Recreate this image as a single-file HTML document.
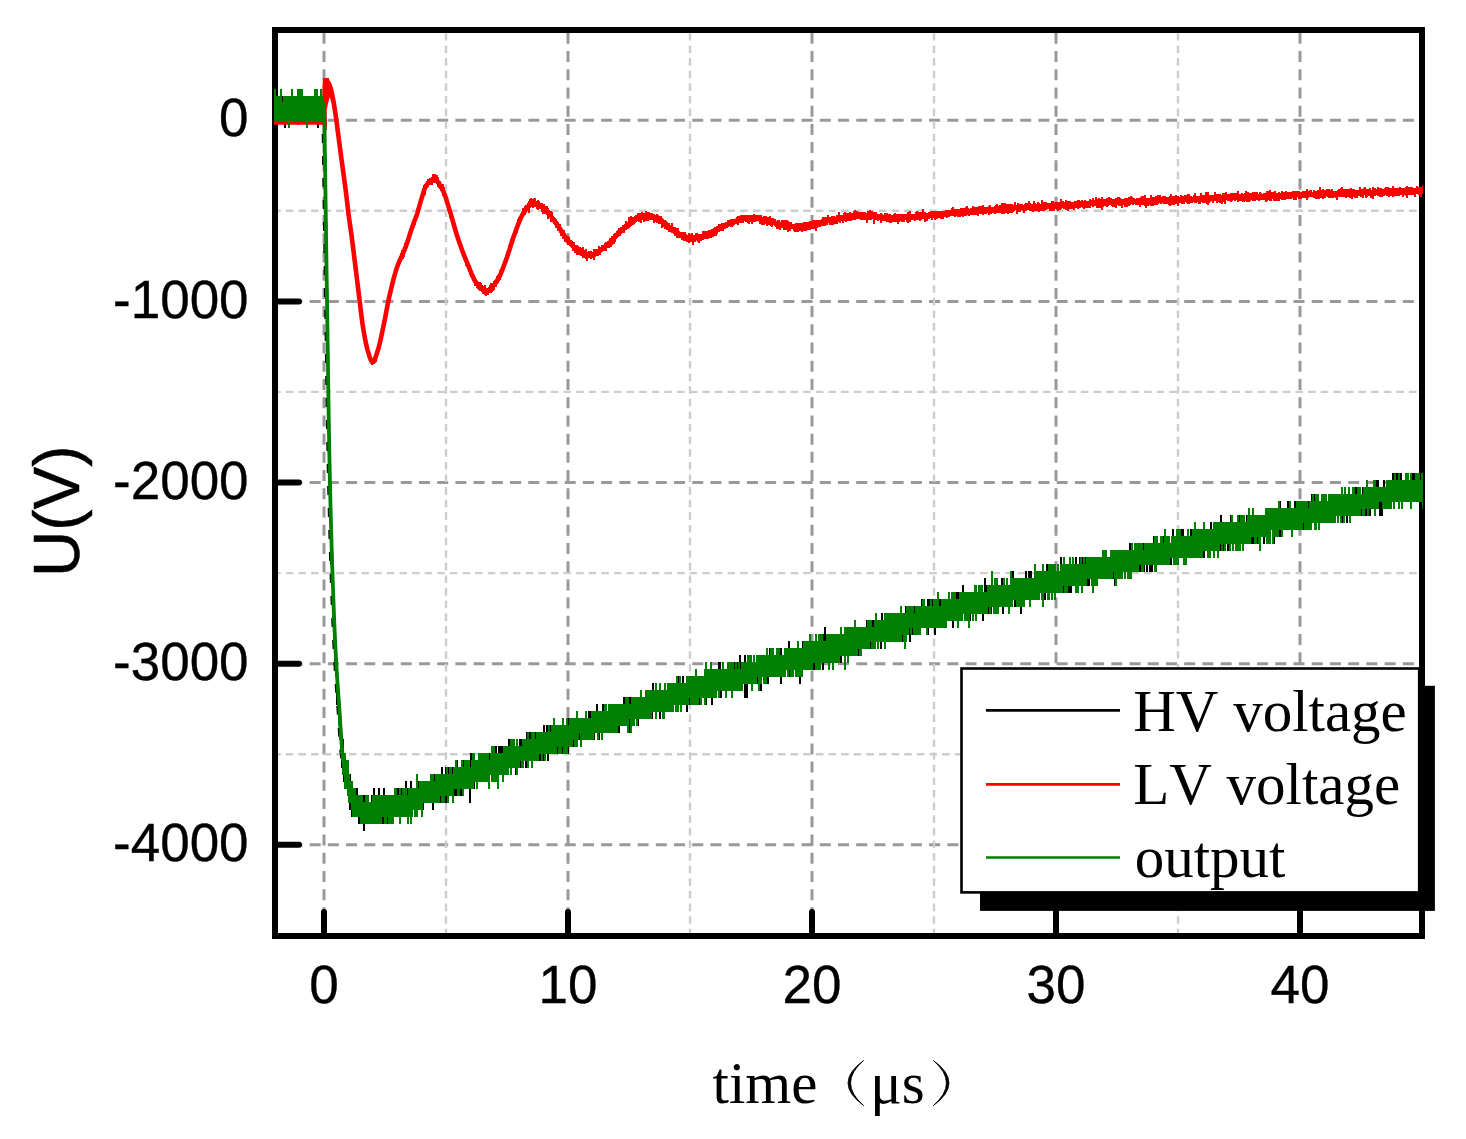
<!DOCTYPE html>
<html><head><meta charset="utf-8"><title>chart</title>
<style>html,body{margin:0;padding:0;background:#fff;width:1466px;height:1139px;overflow:hidden}</style></head>
<body>
<svg width="1466" height="1139" viewBox="0 0 1466 1139" style="position:absolute;left:0;top:0;display:block">
<g fill="none"><line x1="324.0" y1="32.8" x2="324.0" y2="936.0" stroke="#999" stroke-width="3" stroke-dasharray="11 7.22"/><line x1="568.0" y1="32.8" x2="568.0" y2="936.0" stroke="#999" stroke-width="3" stroke-dasharray="11 7.22"/><line x1="812.0" y1="32.8" x2="812.0" y2="936.0" stroke="#999" stroke-width="3" stroke-dasharray="11 7.22"/><line x1="1056.0" y1="32.8" x2="1056.0" y2="936.0" stroke="#999" stroke-width="3" stroke-dasharray="11 7.22"/><line x1="1300.0" y1="32.8" x2="1300.0" y2="936.0" stroke="#999" stroke-width="3" stroke-dasharray="11 7.22"/><line x1="273.2" y1="120.2" x2="1422.0" y2="120.2" stroke="#999" stroke-width="3" stroke-dasharray="11 7.22"/><line x1="273.2" y1="301.4" x2="1422.0" y2="301.4" stroke="#999" stroke-width="3" stroke-dasharray="11 7.22"/><line x1="273.2" y1="482.5" x2="1422.0" y2="482.5" stroke="#999" stroke-width="3" stroke-dasharray="11 7.22"/><line x1="273.2" y1="663.7" x2="1422.0" y2="663.7" stroke="#999" stroke-width="3" stroke-dasharray="11 7.22"/><line x1="273.2" y1="844.8" x2="1422.0" y2="844.8" stroke="#999" stroke-width="3" stroke-dasharray="11 7.22"/><line x1="446.0" y1="32.8" x2="446.0" y2="936.0" stroke="#cdcdcd" stroke-width="2.4" stroke-dasharray="7.6 5.02"/><line x1="690.0" y1="32.8" x2="690.0" y2="936.0" stroke="#cdcdcd" stroke-width="2.4" stroke-dasharray="7.6 5.02"/><line x1="934.0" y1="32.8" x2="934.0" y2="936.0" stroke="#cdcdcd" stroke-width="2.4" stroke-dasharray="7.6 5.02"/><line x1="1178.0" y1="32.8" x2="1178.0" y2="936.0" stroke="#cdcdcd" stroke-width="2.4" stroke-dasharray="7.6 5.02"/><line x1="273.2" y1="210.8" x2="1422.0" y2="210.8" stroke="#cdcdcd" stroke-width="2.4" stroke-dasharray="7.6 5.02"/><line x1="273.2" y1="391.9" x2="1422.0" y2="391.9" stroke="#cdcdcd" stroke-width="2.4" stroke-dasharray="7.6 5.02"/><line x1="273.2" y1="573.1" x2="1422.0" y2="573.1" stroke="#cdcdcd" stroke-width="2.4" stroke-dasharray="7.6 5.02"/><line x1="273.2" y1="754.2" x2="1422.0" y2="754.2" stroke="#cdcdcd" stroke-width="2.4" stroke-dasharray="7.6 5.02"/></g>
<rect x="275.0" y="30.0" width="1147.0" height="906.0" fill="none" stroke="#000" stroke-width="6.0"/>
<path d="M324.0 936.0 V912.0 M568.0 936.0 V912.0 M812.0 936.0 V912.0 M1056.0 936.0 V912.0 M1300.0 936.0 V912.0 M275.0 120.2 H299.0 M275.0 301.4 H299.0 M275.0 482.5 H299.0 M275.0 663.7 H299.0 M275.0 844.8 H299.0" stroke="#000" stroke-width="6" stroke-linecap="round" fill="none"/>
<clipPath id="c"><rect x="274" y="30" width="1149" height="906"/></clipPath>
<g clip-path="url(#c)" fill="none">
<path d="M323.5 112.0L324.0 147.0L324.5 182.3L325.0 217.5L325.5 252.3L326.0 286.6L326.5 320.4L327.0 355.5L327.5 390.2L328.0 423.0L328.5 452.1L329.0 476.1L329.5 497.5L330.0 517.3L330.5 535.6L331.0 552.6L331.5 568.5L332.0 583.3L332.5 597.3L333.0 610.5L333.5 622.9L334.0 634.5L334.5 645.2L335.0 655.1L335.5 664.1L336.0 672.4L336.5 680.1L337.0 687.3L337.5 694.3L338.0 701.1L338.5 708.1L339.0 715.5L339.5 723.4L340.0 731.5L340.5 739.2L341.0 746.1L341.5 751.7L342.0 755.8L342.5 759.3L343.0 762.4L343.5 765.1L344.0 767.6L344.5 769.9L345.0 772.2L345.5 774.4L346.0 776.7L346.5 779.0L347.0 781.3L347.5 783.5L348.0 785.6L348.5 787.5L349.0 789.4L349.5 791.1L350.0 792.6L350.5 794.0L351.0 795.4L351.5 796.8L352.0 798.1L352.5 799.2L353.0 800.3L353.5 801.3L354.0 802.2L354.5 803.0L355.0 803.7L355.5 804.4L356.0 805.1L356.5 805.7L357.0 806.3L357.5 806.9L358.0 807.4L358.5 807.9L359.0 808.2L359.5 808.6L360.0 808.8L360.5 809.0L361.0 809.1L361.5 809.2L362.0 809.4L362.5 809.5L363.0 809.6L363.5 809.6L364.0 809.7L364.5 809.8L365.0 809.9L365.5 809.9" stroke="#000" stroke-width="4.2" stroke-linejoin="round" stroke-dasharray="9 13"/>
<path d="M274 95.8V121.8M275 95.8V128.2M276 95.8V121.8M277 102.2V121.8M278 102.2V121.8M279 95.8V121.8M280 102.2V121.8M281 95.8V121.8M282 95.8V115.4M283 95.8V121.8M284 95.8V121.8M285 95.8V128.2M286 95.8V121.8M287 102.2V121.8M288 95.8V121.8M289 95.8V121.8M290 102.2V121.8M291 95.8V121.8M292 95.8V121.8M293 95.8V121.8M294 95.8V121.8M295 95.8V115.4M296 102.2V121.8M297 95.8V121.8M298 102.2V121.8M299 95.8V115.4M300 95.8V121.8M301 95.8V115.4M302 89.4V121.8M303 95.8V121.8M304 95.8V121.8M305 95.8V121.8M306 95.8V115.4M307 95.8V121.8M308 95.8V121.8M309 95.8V121.8M310 95.8V121.8M311 95.8V121.8M312 95.8V115.4M313 102.2V121.8M314 95.8V115.4M315 95.8V121.8M316 95.8V121.8M317 95.8V121.8M318 95.8V128.2M319 95.8V121.8M320 95.8V121.8M321 95.8V121.8M322 95.8V121.8M323 95.8V121.8M324 102.3V151.7M325 137.3V214.7M326 221.3V298.7M327 291.3V354.7M328 361.3V424.7M329 417.3V480.7M330 473.3V522.7M331 508.3V564.7M332 550.3V585.7M333 578.3V606.7M334 606.3V641.7M335 634.3V662.7M336 648.3V676.7M337 669.3V704.7M338 683.3V711.7M339 690.3V725.7M340 704.3V739.7M341 725.3V753.7M342 739.3V767.7M343 739.3V774.7M344 753.3V781.7M345 753.3V781.7M346 767.3V788.7M347 767.3V788.7M348 767.3V788.7M349 774.3V802.7M350 774.3V809.7M351 781.3V802.7M352 781.3V816.7M353 788.3V802.7M354 788.3V809.7M355 795.3V816.7M356 795.3V816.7M357 788.3V809.7M358 795.3V816.7M359 795.3V823.7M360 795.3V816.7M361 802.3V823.7M362 795.3V816.7M363 802.3V823.7M364 795.3V830.7M365 802.3V816.7M366 802.3V816.7M367 802.3V816.7M368 795.3V816.7M369 802.3V816.7M370 802.3V823.7M371 802.3V823.7M372 795.3V816.7M373 802.3V823.7M374 788.3V823.7M375 795.3V823.7M376 802.3V816.7M377 795.3V823.7M378 802.3V816.7M379 788.3V823.7M380 795.3V823.7M381 802.3V816.7M382 795.3V816.7M383 795.3V823.7M384 788.3V823.7M385 802.3V816.7M386 795.3V823.7M387 795.3V816.7M388 795.3V823.7M389 795.3V816.7M390 795.3V823.7M391 795.3V816.7M392 795.3V816.7M393 795.3V816.7M394 795.3V816.7M395 795.3V816.7M396 788.3V816.7M397 795.3V816.7M398 788.3V816.7M399 795.3V816.7M400 788.3V816.7M401 788.3V816.7M402 788.3V809.7M403 788.3V816.7M404 788.3V816.7M405 788.3V816.7M406 781.3V809.7M407 788.3V809.7M408 788.3V816.7M409 788.3V809.7M410 788.3V809.7M411 781.3V809.7M412 788.3V809.7M413 788.3V809.7M414 788.3V809.7M415 788.3V802.7M416 788.3V809.7M417 781.3V809.7M418 781.3V802.7M419 788.3V809.7M420 788.3V809.7M421 781.3V809.7M422 781.3V809.7M423 781.3V809.7M424 781.3V802.7M425 781.3V802.7M426 788.3V802.7M427 788.3V802.7M428 781.3V802.7M429 781.3V802.7M430 781.3V802.7M431 781.3V802.7M432 781.3V802.7M433 781.3V809.7M434 781.3V802.7M435 774.3V802.7M436 781.3V795.7M437 781.3V795.7M438 774.3V802.7M439 774.3V802.7M440 774.3V802.7M441 774.3V795.7M442 767.3V795.7M443 774.3V802.7M444 774.3V795.7M445 774.3V802.7M446 767.3V802.7M447 774.3V795.7M448 767.3V795.7M449 774.3V795.7M450 774.3V795.7M451 774.3V788.7M452 774.3V795.7M453 767.3V795.7M454 774.3V788.7M455 767.3V795.7M456 774.3V788.7M457 760.3V795.7M458 767.3V795.7M459 767.3V795.7M460 767.3V788.7M461 767.3V795.7M462 774.3V788.7M463 767.3V788.7M464 760.3V788.7M465 767.3V788.7M466 767.3V788.7M467 767.3V788.7M468 760.3V781.7M469 767.3V788.7M470 767.3V802.7M471 753.3V788.7M472 760.3V781.7M473 767.3V788.7M474 767.3V788.7M475 760.3V781.7M476 760.3V781.7M477 760.3V781.7M478 760.3V781.7M479 760.3V781.7M480 760.3V781.7M481 767.3V781.7M482 760.3V774.7M483 753.3V781.7M484 760.3V774.7M485 760.3V781.7M486 760.3V781.7M487 760.3V774.7M488 753.3V774.7M489 753.3V781.7M490 760.3V774.7M491 753.3V774.7M492 746.3V774.7M493 753.3V774.7M494 753.3V774.7M495 753.3V774.7M496 746.3V774.7M497 753.3V774.7M498 753.3V774.7M499 746.3V774.7M500 753.3V774.7M501 746.3V767.7M502 753.3V767.7M503 746.3V774.7M504 753.3V774.7M505 746.3V767.7M506 746.3V774.7M507 746.3V774.7M508 753.3V767.7M509 739.3V767.7M510 746.3V767.7M511 753.3V774.7M512 746.3V767.7M513 739.3V767.7M514 746.3V767.7M515 746.3V767.7M516 746.3V774.7M517 746.3V767.7M518 746.3V760.7M519 746.3V767.7M520 739.3V767.7M521 739.3V760.7M522 739.3V760.7M523 739.3V767.7M524 746.3V760.7M525 746.3V760.7M526 739.3V767.7M527 732.3V767.7M528 739.3V760.7M529 739.3V760.7M530 732.3V760.7M531 739.3V760.7M532 732.3V767.7M533 732.3V760.7M534 739.3V760.7M535 739.3V760.7M536 732.3V753.7M537 732.3V760.7M538 732.3V760.7M539 732.3V760.7M540 739.3V760.7M541 739.3V760.7M542 732.3V753.7M543 732.3V753.7M544 725.3V760.7M545 732.3V760.7M546 739.3V753.7M547 725.3V753.7M548 732.3V760.7M549 732.3V753.7M550 732.3V753.7M551 725.3V753.7M552 732.3V753.7M553 732.3V753.7M554 732.3V753.7M555 732.3V753.7M556 732.3V746.7M557 725.3V753.7M558 732.3V746.7M559 732.3V753.7M560 725.3V746.7M561 725.3V746.7M562 725.3V753.7M563 725.3V746.7M564 725.3V746.7M565 725.3V746.7M566 725.3V746.7M567 718.3V746.7M568 718.3V753.7M569 725.3V746.7M570 718.3V746.7M571 718.3V739.7M572 718.3V746.7M573 725.3V739.7M574 718.3V746.7M575 718.3V739.7M576 718.3V746.7M577 725.3V739.7M578 718.3V739.7M579 718.3V739.7M580 718.3V739.7M581 718.3V739.7M582 718.3V739.7M583 718.3V739.7M584 718.3V739.7M585 718.3V739.7M586 711.3V739.7M587 718.3V739.7M588 718.3V732.7M589 711.3V739.7M590 718.3V732.7M591 711.3V732.7M592 711.3V732.7M593 711.3V739.7M594 711.3V739.7M595 718.3V732.7M596 711.3V732.7M597 704.3V732.7M598 711.3V732.7M599 711.3V739.7M600 711.3V732.7M601 711.3V732.7M602 711.3V739.7M603 704.3V732.7M604 704.3V732.7M605 704.3V732.7M606 704.3V732.7M607 711.3V732.7M608 711.3V732.7M609 704.3V732.7M610 704.3V725.7M611 704.3V732.7M612 704.3V725.7M613 704.3V725.7M614 704.3V732.7M615 704.3V725.7M616 704.3V725.7M617 704.3V725.7M618 704.3V725.7M619 704.3V732.7M620 704.3V725.7M621 704.3V725.7M622 711.3V725.7M623 704.3V725.7M624 697.3V725.7M625 704.3V725.7M626 704.3V725.7M627 704.3V725.7M628 697.3V725.7M629 704.3V732.7M630 697.3V725.7M631 704.3V718.7M632 704.3V725.7M633 697.3V718.7M634 697.3V718.7M635 697.3V718.7M636 704.3V718.7M637 697.3V718.7M638 697.3V725.7M639 697.3V718.7M640 697.3V718.7M641 697.3V718.7M642 697.3V718.7M643 697.3V718.7M644 697.3V718.7M645 697.3V718.7M646 697.3V718.7M647 697.3V718.7M648 690.3V718.7M649 690.3V711.7M650 697.3V718.7M651 697.3V718.7M652 690.3V718.7M653 683.3V711.7M654 690.3V711.7M655 690.3V711.7M656 690.3V711.7M657 690.3V711.7M658 690.3V711.7M659 690.3V711.7M660 690.3V718.7M661 690.3V704.7M662 690.3V711.7M663 690.3V711.7M664 690.3V704.7M665 690.3V704.7M666 690.3V711.7M667 690.3V711.7M668 690.3V711.7M669 690.3V711.7M670 690.3V711.7M671 683.3V711.7M672 690.3V704.7M673 683.3V711.7M674 690.3V704.7M675 690.3V704.7M676 683.3V711.7M677 683.3V711.7M678 683.3V704.7M679 676.3V704.7M680 683.3V704.7M681 683.3V704.7M682 683.3V704.7M683 676.3V704.7M684 683.3V704.7M685 683.3V704.7M686 683.3V704.7M687 683.3V711.7M688 676.3V704.7M689 683.3V704.7M690 676.3V704.7M691 676.3V697.7M692 683.3V704.7M693 676.3V704.7M694 676.3V704.7M695 683.3V697.7M696 676.3V704.7M697 676.3V704.7M698 676.3V697.7M699 676.3V704.7M700 676.3V690.7M701 676.3V697.7M702 676.3V697.7M703 676.3V697.7M704 676.3V697.7M705 676.3V697.7M706 676.3V704.7M707 676.3V697.7M708 676.3V690.7M709 676.3V697.7M710 676.3V697.7M711 669.3V690.7M712 676.3V704.7M713 669.3V697.7M714 669.3V697.7M715 669.3V690.7M716 669.3V697.7M717 676.3V690.7M718 669.3V690.7M719 662.3V690.7M720 662.3V697.7M721 669.3V697.7M722 676.3V690.7M723 669.3V690.7M724 669.3V690.7M725 669.3V690.7M726 669.3V690.7M727 669.3V690.7M728 669.3V690.7M729 669.3V690.7M730 662.3V683.7M731 669.3V690.7M732 669.3V683.7M733 662.3V690.7M734 662.3V683.7M735 669.3V690.7M736 662.3V683.7M737 662.3V690.7M738 669.3V690.7M739 662.3V683.7M740 655.3V683.7M741 662.3V690.7M742 662.3V683.7M743 669.3V683.7M744 669.3V683.7M745 655.3V697.7M746 662.3V683.7M747 662.3V697.7M748 655.3V683.7M749 662.3V683.7M750 662.3V683.7M751 662.3V683.7M752 662.3V683.7M753 662.3V683.7M754 655.3V683.7M755 662.3V683.7M756 662.3V683.7M757 655.3V676.7M758 655.3V683.7M759 662.3V683.7M760 662.3V683.7M761 655.3V690.7M762 655.3V676.7M763 655.3V676.7M764 655.3V683.7M765 655.3V676.7M766 655.3V683.7M767 655.3V676.7M768 655.3V683.7M769 655.3V676.7M770 648.3V676.7M771 655.3V676.7M772 648.3V676.7M773 655.3V676.7M774 655.3V676.7M775 655.3V676.7M776 655.3V676.7M777 655.3V676.7M778 648.3V676.7M779 648.3V676.7M780 648.3V676.7M781 648.3V683.7M782 655.3V676.7M783 655.3V669.7M784 655.3V669.7M785 655.3V676.7M786 648.3V669.7M787 648.3V669.7M788 648.3V669.7M789 641.3V676.7M790 655.3V669.7M791 648.3V669.7M792 655.3V669.7M793 648.3V669.7M794 648.3V669.7M795 648.3V669.7M796 648.3V676.7M797 648.3V676.7M798 648.3V669.7M799 648.3V669.7M800 648.3V683.7M801 648.3V669.7M802 648.3V669.7M803 641.3V669.7M804 648.3V669.7M805 648.3V662.7M806 648.3V669.7M807 641.3V662.7M808 641.3V669.7M809 648.3V662.7M810 641.3V669.7M811 641.3V669.7M812 648.3V669.7M813 641.3V669.7M814 641.3V669.7M815 641.3V669.7M816 641.3V662.7M817 641.3V662.7M818 641.3V662.7M819 641.3V662.7M820 634.3V662.7M821 641.3V662.7M822 641.3V662.7M823 634.3V669.7M824 634.3V662.7M825 627.3V662.7M826 641.3V662.7M827 641.3V662.7M828 641.3V662.7M829 641.3V655.7M830 634.3V655.7M831 634.3V655.7M832 634.3V662.7M833 634.3V655.7M834 634.3V655.7M835 634.3V655.7M836 641.3V655.7M837 634.3V662.7M838 634.3V655.7M839 634.3V655.7M840 634.3V655.7M841 634.3V662.7M842 634.3V655.7M843 634.3V655.7M844 634.3V655.7M845 634.3V648.7M846 634.3V655.7M847 627.3V655.7M848 627.3V662.7M849 627.3V655.7M850 627.3V648.7M851 627.3V655.7M852 634.3V648.7M853 627.3V655.7M854 627.3V655.7M855 627.3V648.7M856 627.3V655.7M857 627.3V648.7M858 627.3V655.7M859 627.3V655.7M860 627.3V655.7M861 627.3V648.7M862 627.3V648.7M863 627.3V648.7M864 627.3V648.7M865 627.3V648.7M866 627.3V648.7M867 620.3V648.7M868 620.3V648.7M869 620.3V648.7M870 627.3V648.7M871 620.3V648.7M872 627.3V641.7M873 620.3V641.7M874 620.3V648.7M875 620.3V641.7M876 627.3V641.7M877 627.3V641.7M878 620.3V648.7M879 620.3V641.7M880 620.3V641.7M881 620.3V648.7M882 613.3V641.7M883 620.3V641.7M884 620.3V641.7M885 620.3V641.7M886 620.3V641.7M887 620.3V641.7M888 620.3V641.7M889 620.3V641.7M890 620.3V641.7M891 613.3V641.7M892 613.3V641.7M893 620.3V641.7M894 620.3V634.7M895 620.3V641.7M896 613.3V641.7M897 613.3V634.7M898 613.3V634.7M899 613.3V641.7M900 613.3V634.7M901 613.3V634.7M902 613.3V641.7M903 613.3V634.7M904 613.3V634.7M905 613.3V627.7M906 606.3V634.7M907 613.3V634.7M908 613.3V634.7M909 613.3V627.7M910 613.3V641.7M911 606.3V627.7M912 606.3V634.7M913 606.3V627.7M914 606.3V627.7M915 606.3V634.7M916 613.3V634.7M917 606.3V634.7M918 606.3V627.7M919 606.3V627.7M920 606.3V634.7M921 613.3V627.7M922 599.3V627.7M923 606.3V627.7M924 606.3V627.7M925 606.3V627.7M926 606.3V627.7M927 606.3V627.7M928 599.3V634.7M929 599.3V627.7M930 606.3V627.7M931 599.3V627.7M932 599.3V627.7M933 599.3V627.7M934 606.3V627.7M935 599.3V634.7M936 606.3V627.7M937 606.3V627.7M938 599.3V627.7M939 606.3V627.7M940 599.3V627.7M941 599.3V627.7M942 606.3V627.7M943 599.3V627.7M944 599.3V627.7M945 599.3V620.7M946 599.3V620.7M947 599.3V620.7M948 599.3V620.7M949 599.3V620.7M950 599.3V620.7M951 599.3V620.7M952 599.3V620.7M953 599.3V627.7M954 592.3V620.7M955 592.3V620.7M956 592.3V613.7M957 592.3V620.7M958 592.3V620.7M959 599.3V620.7M960 599.3V620.7M961 592.3V620.7M962 592.3V620.7M963 585.3V613.7M964 592.3V613.7M965 592.3V620.7M966 592.3V613.7M967 592.3V613.7M968 592.3V613.7M969 592.3V613.7M970 592.3V620.7M971 592.3V613.7M972 592.3V613.7M973 599.3V613.7M974 592.3V613.7M975 585.3V613.7M976 592.3V613.7M977 592.3V613.7M978 592.3V613.7M979 592.3V613.7M980 592.3V613.7M981 585.3V613.7M982 592.3V606.7M983 592.3V620.7M984 592.3V613.7M985 578.3V613.7M986 585.3V613.7M987 585.3V606.7M988 585.3V606.7M989 592.3V613.7M990 585.3V606.7M991 585.3V613.7M992 585.3V606.7M993 585.3V606.7M994 585.3V606.7M995 585.3V606.7M996 585.3V606.7M997 578.3V606.7M998 585.3V606.7M999 585.3V606.7M1000 585.3V606.7M1001 585.3V606.7M1002 578.3V606.7M1003 585.3V613.7M1004 578.3V606.7M1005 585.3V606.7M1006 585.3V606.7M1007 585.3V599.7M1008 585.3V599.7M1009 585.3V606.7M1010 585.3V606.7M1011 585.3V606.7M1012 585.3V599.7M1013 571.3V599.7M1014 578.3V599.7M1015 585.3V606.7M1016 578.3V599.7M1017 578.3V606.7M1018 578.3V599.7M1019 578.3V599.7M1020 578.3V599.7M1021 578.3V613.7M1022 578.3V592.7M1023 578.3V599.7M1024 578.3V599.7M1025 578.3V599.7M1026 571.3V599.7M1027 578.3V599.7M1028 578.3V599.7M1029 571.3V599.7M1030 571.3V606.7M1031 571.3V599.7M1032 578.3V599.7M1033 578.3V599.7M1034 578.3V599.7M1035 571.3V592.7M1036 571.3V592.7M1037 578.3V599.7M1038 571.3V592.7M1039 571.3V599.7M1040 571.3V592.7M1041 571.3V592.7M1042 578.3V599.7M1043 571.3V599.7M1044 571.3V599.7M1045 571.3V599.7M1046 571.3V592.7M1047 564.3V592.7M1048 571.3V592.7M1049 571.3V599.7M1050 571.3V592.7M1051 564.3V592.7M1052 571.3V592.7M1053 571.3V592.7M1054 571.3V592.7M1055 571.3V585.7M1056 571.3V592.7M1057 571.3V592.7M1058 571.3V585.7M1059 571.3V592.7M1060 571.3V585.7M1061 557.3V592.7M1062 564.3V592.7M1063 571.3V592.7M1064 564.3V592.7M1065 564.3V592.7M1066 564.3V578.7M1067 564.3V585.7M1068 564.3V592.7M1069 564.3V592.7M1070 557.3V585.7M1071 564.3V592.7M1072 564.3V585.7M1073 564.3V585.7M1074 564.3V585.7M1075 564.3V585.7M1076 557.3V585.7M1077 564.3V585.7M1078 564.3V585.7M1079 564.3V585.7M1080 557.3V585.7M1081 564.3V585.7M1082 557.3V585.7M1083 564.3V585.7M1084 564.3V578.7M1085 557.3V585.7M1086 557.3V585.7M1087 557.3V585.7M1088 557.3V578.7M1089 564.3V585.7M1090 557.3V578.7M1091 557.3V578.7M1092 564.3V585.7M1093 564.3V585.7M1094 557.3V578.7M1095 557.3V578.7M1096 557.3V578.7M1097 557.3V578.7M1098 557.3V578.7M1099 557.3V578.7M1100 557.3V578.7M1101 557.3V578.7M1102 557.3V578.7M1103 550.3V578.7M1104 557.3V578.7M1105 550.3V578.7M1106 550.3V578.7M1107 557.3V578.7M1108 557.3V571.7M1109 557.3V578.7M1110 557.3V578.7M1111 557.3V578.7M1112 550.3V578.7M1113 550.3V578.7M1114 550.3V571.7M1115 557.3V585.7M1116 550.3V578.7M1117 550.3V571.7M1118 550.3V571.7M1119 550.3V571.7M1120 557.3V571.7M1121 550.3V571.7M1122 550.3V571.7M1123 550.3V571.7M1124 550.3V571.7M1125 550.3V571.7M1126 550.3V571.7M1127 550.3V571.7M1128 550.3V578.7M1129 550.3V571.7M1130 543.3V571.7M1131 550.3V578.7M1132 550.3V571.7M1133 550.3V571.7M1134 550.3V571.7M1135 543.3V571.7M1136 550.3V571.7M1137 543.3V564.7M1138 550.3V564.7M1139 550.3V571.7M1140 543.3V571.7M1141 550.3V571.7M1142 550.3V571.7M1143 543.3V571.7M1144 550.3V571.7M1145 550.3V564.7M1146 543.3V564.7M1147 543.3V571.7M1148 550.3V564.7M1149 543.3V564.7M1150 543.3V571.7M1151 543.3V571.7M1152 543.3V571.7M1153 543.3V564.7M1154 536.3V564.7M1155 543.3V564.7M1156 536.3V571.7M1157 543.3V564.7M1158 543.3V564.7M1159 543.3V564.7M1160 543.3V564.7M1161 543.3V557.7M1162 543.3V564.7M1163 536.3V564.7M1164 536.3V564.7M1165 543.3V564.7M1166 536.3V564.7M1167 543.3V564.7M1168 536.3V557.7M1169 536.3V557.7M1170 543.3V564.7M1171 543.3V564.7M1172 536.3V557.7M1173 529.3V557.7M1174 536.3V557.7M1175 536.3V557.7M1176 536.3V564.7M1177 536.3V564.7M1178 543.3V557.7M1179 536.3V557.7M1180 543.3V557.7M1181 529.3V550.7M1182 536.3V557.7M1183 529.3V557.7M1184 536.3V557.7M1185 536.3V557.7M1186 536.3V557.7M1187 536.3V557.7M1188 536.3V557.7M1189 536.3V557.7M1190 536.3V550.7M1191 529.3V550.7M1192 529.3V550.7M1193 536.3V550.7M1194 536.3V550.7M1195 529.3V550.7M1196 536.3V557.7M1197 536.3V557.7M1198 529.3V550.7M1199 529.3V550.7M1200 529.3V557.7M1201 529.3V550.7M1202 529.3V550.7M1203 529.3V550.7M1204 529.3V557.7M1205 529.3V550.7M1206 529.3V550.7M1207 536.3V550.7M1208 529.3V550.7M1209 529.3V550.7M1210 529.3V550.7M1211 522.3V550.7M1212 529.3V550.7M1213 529.3V550.7M1214 529.3V550.7M1215 529.3V550.7M1216 522.3V543.7M1217 529.3V543.7M1218 529.3V550.7M1219 522.3V550.7M1220 522.3V550.7M1221 515.3V550.7M1222 522.3V550.7M1223 522.3V550.7M1224 522.3V543.7M1225 522.3V550.7M1226 522.3V543.7M1227 522.3V543.7M1228 522.3V550.7M1229 522.3V543.7M1230 522.3V543.7M1231 515.3V543.7M1232 522.3V543.7M1233 522.3V536.7M1234 522.3V543.7M1235 522.3V543.7M1236 522.3V543.7M1237 522.3V543.7M1238 522.3V543.7M1239 515.3V543.7M1240 515.3V543.7M1241 522.3V543.7M1242 515.3V543.7M1243 522.3V543.7M1244 522.3V543.7M1245 522.3V536.7M1246 522.3V543.7M1247 515.3V543.7M1248 522.3V536.7M1249 515.3V543.7M1250 515.3V536.7M1251 515.3V536.7M1252 515.3V543.7M1253 515.3V543.7M1254 515.3V543.7M1255 515.3V536.7M1256 515.3V536.7M1257 515.3V543.7M1258 522.3V536.7M1259 515.3V536.7M1260 515.3V536.7M1261 515.3V536.7M1262 515.3V536.7M1263 515.3V536.7M1264 515.3V543.7M1265 515.3V536.7M1266 508.3V536.7M1267 508.3V543.7M1268 515.3V536.7M1269 515.3V543.7M1270 515.3V536.7M1271 515.3V529.7M1272 508.3V529.7M1273 508.3V536.7M1274 508.3V543.7M1275 508.3V529.7M1276 508.3V529.7M1277 515.3V529.7M1278 515.3V529.7M1279 515.3V529.7M1280 501.3V536.7M1281 508.3V529.7M1282 508.3V529.7M1283 508.3V529.7M1284 508.3V529.7M1285 515.3V529.7M1286 508.3V529.7M1287 508.3V529.7M1288 501.3V529.7M1289 508.3V529.7M1290 508.3V529.7M1291 508.3V529.7M1292 508.3V529.7M1293 508.3V529.7M1294 508.3V529.7M1295 501.3V529.7M1296 501.3V529.7M1297 501.3V529.7M1298 501.3V529.7M1299 501.3V529.7M1300 508.3V529.7M1301 501.3V529.7M1302 501.3V522.7M1303 501.3V529.7M1304 501.3V529.7M1305 501.3V522.7M1306 508.3V529.7M1307 501.3V522.7M1308 501.3V522.7M1309 501.3V522.7M1310 501.3V522.7M1311 501.3V522.7M1312 494.3V522.7M1313 501.3V522.7M1314 494.3V522.7M1315 501.3V522.7M1316 501.3V522.7M1317 494.3V522.7M1318 501.3V522.7M1319 501.3V522.7M1320 501.3V522.7M1321 501.3V515.7M1322 501.3V522.7M1323 501.3V522.7M1324 501.3V515.7M1325 501.3V522.7M1326 494.3V522.7M1327 501.3V515.7M1328 501.3V522.7M1329 501.3V522.7M1330 501.3V515.7M1331 494.3V522.7M1332 494.3V522.7M1333 494.3V522.7M1334 494.3V522.7M1335 494.3V522.7M1336 494.3V515.7M1337 494.3V515.7M1338 494.3V522.7M1339 494.3V515.7M1340 501.3V515.7M1341 494.3V515.7M1342 501.3V515.7M1343 494.3V522.7M1344 494.3V515.7M1345 494.3V515.7M1346 494.3V515.7M1347 494.3V522.7M1348 494.3V515.7M1349 494.3V515.7M1350 494.3V522.7M1351 494.3V515.7M1352 494.3V515.7M1353 487.3V515.7M1354 487.3V515.7M1355 487.3V515.7M1356 487.3V515.7M1357 487.3V515.7M1358 487.3V515.7M1359 494.3V508.7M1360 487.3V508.7M1361 494.3V515.7M1362 494.3V515.7M1363 487.3V508.7M1364 487.3V508.7M1365 487.3V515.7M1366 487.3V515.7M1367 487.3V515.7M1368 487.3V508.7M1369 487.3V515.7M1370 487.3V515.7M1371 487.3V508.7M1372 487.3V508.7M1373 487.3V508.7M1374 487.3V508.7M1375 487.3V508.7M1376 487.3V508.7M1377 480.3V508.7M1378 480.3V508.7M1379 487.3V508.7M1380 487.3V515.7M1381 487.3V508.7M1382 487.3V515.7M1383 487.3V508.7M1384 480.3V508.7M1385 487.3V501.7M1386 487.3V508.7M1387 480.3V508.7M1388 480.3V508.7M1389 480.3V508.7M1390 480.3V508.7M1391 480.3V501.7M1392 480.3V501.7M1393 473.3V501.7M1394 487.3V501.7M1395 480.3V501.7M1396 480.3V501.7M1397 473.3V501.7M1398 480.3V501.7M1399 480.3V508.7M1400 480.3V501.7M1401 473.3V501.7M1402 480.3V494.7M1403 480.3V501.7M1404 480.3V501.7M1405 480.3V501.7M1406 480.3V501.7M1407 473.3V501.7M1408 480.3V501.7M1409 480.3V501.7M1410 480.3V501.7M1411 480.3V494.7M1412 473.3V501.7M1413 480.3V501.7M1414 473.3V501.7M1415 480.3V494.7M1416 473.3V501.7M1417 473.3V501.7M1418 480.3V501.7M1419 473.3V501.7M1420 473.3V494.7M1421 473.3V494.7M1422 473.3V501.7M1423 473.3V494.7" stroke="#000" stroke-width="2" shape-rendering="crispEdges"/>
<path d="M274 123H323.5" stroke="#f00" stroke-width="3.6"/><path d="M326.5 100L326.5 80.0L327.5 81.5L328.5 83.0L329.5 85.0L330.5 87.9L331.5 91.8L332.5 96.3L333.5 101.5L334.5 107.5L335.5 114.1L336.5 121.1L337.5 128.9L338.5 136.7L339.5 144.3L340.5 151.9L341.5 159.3L342.5 166.6L343.5 173.9L344.5 181.3L345.5 188.8L346.5 196.7L347.5 205.6L348.5 214.1L349.5 221.3L350.5 228.1L351.5 235.3L352.5 243.1L353.5 251.1L354.5 259.2L355.5 267.2L356.5 275.3L357.5 283.5L358.5 291.6L359.5 299.7L360.5 308.2L361.5 316.4L362.5 323.8L363.5 330.1L364.5 335.9L365.5 341.3L366.5 345.9L367.5 349.8L368.5 353.1L369.5 356.4L370.5 359.2L371.5 361.3L372.5 362.3L373.5 361.8L374.5 360.2L375.5 357.6L376.5 354.5L377.5 351.3L378.5 348.1L379.5 344.3L380.5 340.0L381.5 335.4L382.5 330.6L383.5 325.9L384.5 321.1L385.5 315.9L386.5 310.6L387.5 305.4L388.5 300.3L389.5 295.7L390.5 291.4L391.5 287.2L392.5 283.1L393.5 279.2L394.5 275.5L395.5 272.1L396.5 268.9L397.5 266.0L398.5 263.4L399.5 261.0L400.5 258.8L401.5 256.6L402.5 254.5L403.5 252.3L404.5 249.9L405.5 247.4L406.5 244.6L407.5 241.7L408.5 238.6L409.5 235.5L410.5 232.3L411.5 229.2L412.5 226.3L413.5 223.4L414.5 220.9L415.5 218.4L416.5 215.8L417.5 212.7L418.5 209.2L419.5 205.6L420.5 202.0L421.5 198.7L422.5 195.4L423.5 192.1L424.5 189.1L425.5 186.7L426.5 185.2L427.5 183.9L428.5 182.7L429.5 181.6L430.5 180.6L431.5 179.9L432.5 179.3L433.5 179.0L434.5 179.1L435.5 179.5L436.5 180.3L437.5 181.4L438.5 182.7L439.5 184.3L440.5 186.0L441.5 187.9L442.5 189.8L443.5 191.7L444.5 194.0L445.5 196.8L446.5 200.0L447.5 203.3L448.5 206.7L449.5 209.9L450.5 213.2L451.5 216.6L452.5 220.0L453.5 223.5L454.5 227.0L455.5 230.5L456.5 233.8L457.5 237.0L458.5 240.0L459.5 242.9L460.5 245.7L461.5 248.5L462.5 251.2L463.5 253.8L464.5 256.4L465.5 258.9L466.5 261.3L467.5 263.7L468.5 266.2L469.5 268.7L470.5 271.2L471.5 273.7L472.5 276.0L473.5 278.1L474.5 280.0L475.5 281.6L476.5 282.9L477.5 284.1L478.5 285.2L479.5 286.3L480.5 287.3L481.5 288.3L482.5 289.1L483.5 289.8L484.5 290.3L485.5 290.7L486.5 290.8L487.5 290.7L488.5 290.3L489.5 289.7L490.5 288.9L491.5 287.9L492.5 286.8L493.5 285.6L494.5 284.3L495.5 283.0L496.5 281.6L497.5 280.2L498.5 278.5L499.5 276.5L500.5 274.3L501.5 271.9L502.5 269.3L503.5 266.7L504.5 264.0L505.5 261.3L506.5 258.7L507.5 255.8L508.5 252.8L509.5 249.6L510.5 246.4L511.5 243.2L512.5 240.0L513.5 237.0L514.5 234.2L515.5 231.5L516.5 228.8L517.5 226.2L518.5 223.6L519.5 221.1L520.5 218.7L521.5 216.5L522.5 214.5L523.5 212.8L524.5 211.3L525.5 209.9L526.5 208.4L527.5 207.1L528.5 205.8L529.5 204.8L530.5 203.9L531.5 203.3L532.5 203.0L533.5 203.0L534.5 203.2L535.5 203.5L536.5 203.8L537.5 204.3L538.5 204.9L539.5 205.5L540.5 206.1L541.5 206.8L542.5 207.6L543.5 208.3L544.5 209.1L545.5 209.9L546.5 210.8L547.5 211.8L548.5 213.0L549.5 214.2L550.5 215.5L551.5 216.9L552.5 218.3L553.5 219.8L554.5 221.2L555.5 222.6L556.5 223.9L557.5 225.3L558.5 226.7L559.5 228.1L560.5 229.6L561.5 231.1L562.5 232.6L563.5 234.1L564.5 235.6L565.5 237.0L566.5 238.3L567.5 239.6L568.5 240.8L569.5 241.9L570.5 243.0L571.5 244.1L572.5 245.2L573.5 246.3L574.5 247.3L575.5 248.3L576.5 249.2L577.5 250.0L578.5 250.8L579.5 251.4L580.5 252.0L581.5 252.4L582.5 252.9L583.5 253.3L584.5 253.8L585.5 254.2L586.5 254.5L587.5 254.8L588.5 255.0L589.5 255.2L590.5 255.2L591.5 255.1L592.5 254.9L593.5 254.6L594.5 254.2L595.5 253.7L596.5 253.2L597.5 252.5L598.5 251.8L599.5 251.1L600.5 250.3L601.5 249.5L602.5 248.6L603.5 247.8L604.5 247.0L605.5 246.2L606.5 245.4L607.5 244.6L608.5 243.8L609.5 242.8L610.5 241.9L611.5 240.8L612.5 239.8L613.5 238.7L614.5 237.6L615.5 236.5L616.5 235.4L617.5 234.3L618.5 233.3L619.5 232.2L620.5 231.2L621.5 230.3L622.5 229.4L623.5 228.5L624.5 227.6L625.5 226.7L626.5 225.8L627.5 224.9L628.5 224.1L629.5 223.2L630.5 222.4L631.5 221.6L632.5 220.9L633.5 220.3L634.5 219.7L635.5 219.2L636.5 218.8L637.5 218.4L638.5 218.0L639.5 217.7L640.5 217.3L641.5 217.0L642.5 216.7L643.5 216.5L644.5 216.3L645.5 216.1L646.5 216.0L647.5 216.0L648.5 216.1L649.5 216.2L650.5 216.4L651.5 216.7L652.5 217.0L653.5 217.4L654.5 217.8L655.5 218.3L656.5 218.7L657.5 219.2L658.5 219.7L659.5 220.2L660.5 220.8L661.5 221.3L662.5 221.9L663.5 222.6L664.5 223.3L665.5 224.1L666.5 225.0L667.5 225.9L668.5 226.8L669.5 227.7L670.5 228.6L671.5 229.4L672.5 230.2L673.5 230.8L674.5 231.4L675.5 232.0L676.5 232.5L677.5 233.1L678.5 233.7L679.5 234.2L680.5 234.8L681.5 235.3L682.5 235.8L683.5 236.3L684.5 236.8L685.5 237.2L686.5 237.6L687.5 237.9L688.5 238.2L689.5 238.4L690.5 238.6L691.5 238.7L692.5 238.7L693.5 238.7L694.5 238.6L695.5 238.4L696.5 238.2L697.5 238.0L698.5 237.7L699.5 237.4L700.5 237.1L701.5 236.7L702.5 236.4L703.5 236.0L704.5 235.6L705.5 235.3L706.5 234.9L707.5 234.5L708.5 234.1L709.5 233.7L710.5 233.3L711.5 232.8L712.5 232.3L713.5 231.8L714.5 231.3L715.5 230.7L716.5 230.2L717.5 229.6L718.5 229.1L719.5 228.5L720.5 228.0L721.5 227.5L722.5 227.0L723.5 226.5L724.5 226.0L725.5 225.5L726.5 225.0L727.5 224.5L728.5 224.0L729.5 223.5L730.5 223.0L731.5 222.6L732.5 222.1L733.5 221.7L734.5 221.3L735.5 220.9L736.5 220.6L737.5 220.4L738.5 220.1L739.5 219.9L740.5 219.7L741.5 219.4L742.5 219.2L743.5 219.0L744.5 218.8L745.5 218.7L746.5 218.5L747.5 218.4L748.5 218.3L749.5 218.2L750.5 218.2L751.5 218.2L752.5 218.2L753.5 218.3L754.5 218.4L755.5 218.5L756.5 218.7L757.5 218.9L758.5 219.0L759.5 219.2L760.5 219.5L761.5 219.7L762.5 219.9L763.5 220.1L764.5 220.4L765.5 220.6L766.5 220.8L767.5 221.0L768.5 221.2L769.5 221.5L770.5 221.7L771.5 222.0L772.5 222.2L773.5 222.5L774.5 222.8L775.5 223.0L776.5 223.3L777.5 223.6L778.5 223.8L779.5 224.1L780.5 224.3L781.5 224.6L782.5 224.8L783.5 225.0L784.5 225.1L785.5 225.3L786.5 225.5L787.5 225.7L788.5 225.9L789.5 226.1L790.5 226.3L791.5 226.5L792.5 226.6L793.5 226.8L794.5 226.9L795.5 226.9L796.5 227.0L797.5 227.0L798.5 227.0L799.5 226.9L800.5 226.9L801.5 226.8L802.5 226.7L803.5 226.6L804.5 226.5L805.5 226.4L806.5 226.2L807.5 226.1L808.5 225.9L809.5 225.7L810.5 225.6L811.5 225.4L812.5 225.2L813.5 225.1L814.5 224.9L815.5 224.7L816.5 224.4L817.5 224.2L818.5 223.9L819.5 223.6L820.5 223.3L821.5 223.0L822.5 222.7L823.5 222.3L824.5 222.0L825.5 221.7L826.5 221.4L827.5 221.1L828.5 220.8L829.5 220.5L830.5 220.3L831.5 220.1L832.5 219.8L833.5 219.6L834.5 219.3L835.5 219.1L836.5 218.8L837.5 218.6L838.5 218.4L839.5 218.2L840.5 218.0L841.5 217.8L842.5 217.6L843.5 217.4L844.5 217.2L845.5 217.0L846.5 216.9L847.5 216.8L848.5 216.6L849.5 216.5L850.5 216.3L851.5 216.2L852.5 216.1L853.5 215.9L854.5 215.8L855.5 215.7L856.5 215.6L857.5 215.6L858.5 215.5L859.5 215.5L860.5 215.5L861.5 215.5L862.5 215.6L863.5 215.6L864.5 215.7L865.5 215.7L866.5 215.8L867.5 215.9L868.5 216.0L869.5 216.1L870.5 216.2L871.5 216.3L872.5 216.5L873.5 216.6L874.5 216.7L875.5 216.8L876.5 216.9L877.5 217.0L878.5 217.0L879.5 217.1L880.5 217.2L881.5 217.3L882.5 217.3L883.5 217.4L884.5 217.5L885.5 217.6L886.5 217.7L887.5 217.7L888.5 217.8L889.5 217.9L890.5 217.9L891.5 218.0L892.5 218.1L893.5 218.1L894.5 218.1L895.5 218.2L896.5 218.2L897.5 218.2L898.5 218.2L899.5 218.2L900.5 218.1L901.5 218.1L902.5 218.0L903.5 218.0L904.5 217.9L905.5 217.8L906.5 217.7L907.5 217.6L908.5 217.5L909.5 217.4L910.5 217.3L911.5 217.2L912.5 217.1L913.5 217.0L914.5 216.9L915.5 216.8L916.5 216.7L917.5 216.6L918.5 216.6L919.5 216.5L920.5 216.4L921.5 216.3L922.5 216.2L923.5 216.1L924.5 216.0L925.5 215.9L926.5 215.8L927.5 215.6L928.5 215.5L929.5 215.4L930.5 215.3L931.5 215.2L932.5 215.1L933.5 215.0L934.5 214.9L935.5 214.8L936.5 214.7L937.5 214.6L938.5 214.5L939.5 214.4L940.5 214.3L941.5 214.2L942.5 214.0L943.5 213.9L944.5 213.8L945.5 213.7L946.5 213.6L947.5 213.5L948.5 213.4L949.5 213.3L950.5 213.2L951.5 213.1L952.5 213.0L953.5 212.8L954.5 212.7L955.5 212.6L956.5 212.5L957.5 212.4L958.5 212.3L959.5 212.2L960.5 212.2L961.5 212.1L962.5 212.0L963.5 211.9L964.5 211.8L965.5 211.7L966.5 211.6L967.5 211.5L968.5 211.5L969.5 211.4L970.5 211.3L971.5 211.2L972.5 211.1L973.5 211.0L974.5 211.0L975.5 210.9L976.5 210.8L977.5 210.7L978.5 210.6L979.5 210.6L980.5 210.5L981.5 210.4L982.5 210.3L983.5 210.2L984.5 210.2L985.5 210.1L986.5 210.0L987.5 209.9L988.5 209.8L989.5 209.8L990.5 209.7L991.5 209.6L992.5 209.5L993.5 209.5L994.5 209.4L995.5 209.3L996.5 209.2L997.5 209.2L998.5 209.1L999.5 209.0L1000.5 209.0L1001.5 208.9L1002.5 208.8L1003.5 208.7L1004.5 208.7L1005.5 208.6L1006.5 208.5L1007.5 208.5L1008.5 208.4L1009.5 208.3L1010.5 208.2L1011.5 208.2L1012.5 208.1L1013.5 208.0L1014.5 208.0L1015.5 207.9L1016.5 207.8L1017.5 207.8L1018.5 207.7L1019.5 207.6L1020.5 207.6L1021.5 207.5L1022.5 207.4L1023.5 207.4L1024.5 207.3L1025.5 207.3L1026.5 207.2L1027.5 207.1L1028.5 207.1L1029.5 207.0L1030.5 206.9L1031.5 206.9L1032.5 206.8L1033.5 206.7L1034.5 206.7L1035.5 206.6L1036.5 206.6L1037.5 206.5L1038.5 206.4L1039.5 206.4L1040.5 206.3L1041.5 206.3L1042.5 206.2L1043.5 206.1L1044.5 206.1L1045.5 206.0L1046.5 206.0L1047.5 205.9L1048.5 205.8L1049.5 205.8L1050.5 205.7L1051.5 205.7L1052.5 205.6L1053.5 205.5L1054.5 205.5L1055.5 205.4L1056.5 205.4L1057.5 205.3L1058.5 205.3L1059.5 205.2L1060.5 205.1L1061.5 205.1L1062.5 205.0L1063.5 205.0L1064.5 204.9L1065.5 204.9L1066.5 204.8L1067.5 204.8L1068.5 204.7L1069.5 204.6L1070.5 204.6L1071.5 204.5L1072.5 204.5L1073.5 204.4L1074.5 204.4L1075.5 204.3L1076.5 204.3L1077.5 204.2L1078.5 204.2L1079.5 204.1L1080.5 204.1L1081.5 204.0L1082.5 204.0L1083.5 203.9L1084.5 203.9L1085.5 203.8L1086.5 203.8L1087.5 203.7L1088.5 203.7L1089.5 203.6L1090.5 203.6L1091.5 203.5L1092.5 203.5L1093.5 203.4L1094.5 203.4L1095.5 203.3L1096.5 203.3L1097.5 203.2L1098.5 203.2L1099.5 203.1L1100.5 203.1L1101.5 203.0L1102.5 203.0L1103.5 202.9L1104.5 202.9L1105.5 202.8L1106.5 202.8L1107.5 202.7L1108.5 202.7L1109.5 202.6L1110.5 202.6L1111.5 202.5L1112.5 202.5L1113.5 202.4L1114.5 202.4L1115.5 202.3L1116.5 202.3L1117.5 202.3L1118.5 202.2L1119.5 202.2L1120.5 202.1L1121.5 202.1L1122.5 202.0L1123.5 202.0L1124.5 201.9L1125.5 201.9L1126.5 201.8L1127.5 201.8L1128.5 201.7L1129.5 201.7L1130.5 201.7L1131.5 201.6L1132.5 201.6L1133.5 201.5L1134.5 201.5L1135.5 201.4L1136.5 201.4L1137.5 201.3L1138.5 201.3L1139.5 201.3L1140.5 201.2L1141.5 201.2L1142.5 201.1L1143.5 201.1L1144.5 201.0L1145.5 201.0L1146.5 201.0L1147.5 200.9L1148.5 200.9L1149.5 200.8L1150.5 200.8L1151.5 200.7L1152.5 200.7L1153.5 200.6L1154.5 200.6L1155.5 200.6L1156.5 200.5L1157.5 200.5L1158.5 200.4L1159.5 200.4L1160.5 200.3L1161.5 200.3L1162.5 200.3L1163.5 200.2L1164.5 200.2L1165.5 200.1L1166.5 200.1L1167.5 200.0L1168.5 200.0L1169.5 200.0L1170.5 199.9L1171.5 199.9L1172.5 199.8L1173.5 199.8L1174.5 199.7L1175.5 199.7L1176.5 199.7L1177.5 199.6L1178.5 199.6L1179.5 199.5L1180.5 199.5L1181.5 199.5L1182.5 199.4L1183.5 199.4L1184.5 199.3L1185.5 199.3L1186.5 199.2L1187.5 199.2L1188.5 199.2L1189.5 199.1L1190.5 199.1L1191.5 199.0L1192.5 199.0L1193.5 199.0L1194.5 198.9L1195.5 198.9L1196.5 198.8L1197.5 198.8L1198.5 198.7L1199.5 198.7L1200.5 198.7L1201.5 198.6L1202.5 198.6L1203.5 198.5L1204.5 198.5L1205.5 198.5L1206.5 198.4L1207.5 198.4L1208.5 198.3L1209.5 198.3L1210.5 198.3L1211.5 198.2L1212.5 198.2L1213.5 198.1L1214.5 198.1L1215.5 198.1L1216.5 198.0L1217.5 198.0L1218.5 197.9L1219.5 197.9L1220.5 197.9L1221.5 197.8L1222.5 197.8L1223.5 197.7L1224.5 197.7L1225.5 197.7L1226.5 197.6L1227.5 197.6L1228.5 197.6L1229.5 197.5L1230.5 197.5L1231.5 197.4L1232.5 197.4L1233.5 197.4L1234.5 197.3L1235.5 197.3L1236.5 197.2L1237.5 197.2L1238.5 197.2L1239.5 197.1L1240.5 197.1L1241.5 197.1L1242.5 197.0L1243.5 197.0L1244.5 196.9L1245.5 196.9L1246.5 196.9L1247.5 196.8L1248.5 196.8L1249.5 196.8L1250.5 196.7L1251.5 196.7L1252.5 196.6L1253.5 196.6L1254.5 196.6L1255.5 196.5L1256.5 196.5L1257.5 196.5L1258.5 196.4L1259.5 196.4L1260.5 196.3L1261.5 196.3L1262.5 196.3L1263.5 196.2L1264.5 196.2L1265.5 196.2L1266.5 196.1L1267.5 196.1L1268.5 196.0L1269.5 196.0L1270.5 196.0L1271.5 195.9L1272.5 195.9L1273.5 195.9L1274.5 195.8L1275.5 195.8L1276.5 195.8L1277.5 195.7L1278.5 195.7L1279.5 195.6L1280.5 195.6L1281.5 195.6L1282.5 195.5L1283.5 195.5L1284.5 195.5L1285.5 195.4L1286.5 195.4L1287.5 195.4L1288.5 195.3L1289.5 195.3L1290.5 195.2L1291.5 195.2L1292.5 195.2L1293.5 195.1L1294.5 195.1L1295.5 195.1L1296.5 195.0L1297.5 195.0L1298.5 195.0L1299.5 194.9L1300.5 194.9L1301.5 194.8L1302.5 194.8L1303.5 194.8L1304.5 194.7L1305.5 194.7L1306.5 194.7L1307.5 194.6L1308.5 194.6L1309.5 194.6L1310.5 194.5L1311.5 194.5L1312.5 194.5L1313.5 194.4L1314.5 194.4L1315.5 194.3L1316.5 194.3L1317.5 194.3L1318.5 194.2L1319.5 194.2L1320.5 194.2L1321.5 194.1L1322.5 194.1L1323.5 194.1L1324.5 194.0L1325.5 194.0L1326.5 194.0L1327.5 193.9L1328.5 193.9L1329.5 193.9L1330.5 193.8L1331.5 193.8L1332.5 193.8L1333.5 193.7L1334.5 193.7L1335.5 193.7L1336.5 193.6L1337.5 193.6L1338.5 193.6L1339.5 193.5L1340.5 193.5L1341.5 193.5L1342.5 193.4L1343.5 193.4L1344.5 193.4L1345.5 193.3L1346.5 193.3L1347.5 193.3L1348.5 193.2L1349.5 193.2L1350.5 193.2L1351.5 193.1L1352.5 193.1L1353.5 193.1L1354.5 193.0L1355.5 193.0L1356.5 192.9L1357.5 192.9L1358.5 192.9L1359.5 192.8L1360.5 192.8L1361.5 192.8L1362.5 192.7L1363.5 192.7L1364.5 192.7L1365.5 192.6L1366.5 192.6L1367.5 192.6L1368.5 192.5L1369.5 192.5L1370.5 192.5L1371.5 192.5L1372.5 192.4L1373.5 192.4L1374.5 192.4L1375.5 192.3L1376.5 192.3L1377.5 192.3L1378.5 192.2L1379.5 192.2L1380.5 192.2L1381.5 192.1L1382.5 192.1L1383.5 192.1L1384.5 192.0L1385.5 192.0L1386.5 192.0L1387.5 191.9L1388.5 191.9L1389.5 191.9L1390.5 191.8L1391.5 191.8L1392.5 191.8L1393.5 191.7L1394.5 191.7L1395.5 191.7L1396.5 191.6L1397.5 191.6L1398.5 191.6L1399.5 191.5L1400.5 191.5L1401.5 191.5L1402.5 191.4L1403.5 191.4L1404.5 191.4L1405.5 191.3L1406.5 191.3L1407.5 191.3L1408.5 191.2L1409.5 191.2L1410.5 191.2L1411.5 191.1L1412.5 191.1L1413.5 191.1L1414.5 191.0L1415.5 191.0L1416.5 191.0L1417.5 190.9L1418.5 190.9L1419.5 190.9L1420.5 190.8L1421.5 190.8L1422.5 190.8L1423.5 190.7" stroke="#f00" stroke-width="4.6" stroke-linejoin="round"/>
<path d="M274 121.7V124.0M275 122.0V124.3M276 121.7V124.3M277 122.1V124.1M278 121.8V124.3M279 121.8V124.3M280 121.5V124.2M281 121.9V124.2M282 121.7V124.2M283 121.8V124.2M284 121.8V124.0M285 121.9V124.3M286 121.8V124.3M287 122.0V123.9M288 122.0V124.0M289 122.1V124.2M290 121.7V123.8M291 121.9V124.4M292 122.2V124.2M293 121.8V124.3M294 122.1V123.8M295 121.8V124.0M296 121.7V124.1M297 122.0V124.1M298 122.0V124.7M299 121.8V124.2M300 122.0V124.0M301 121.7V124.1M302 122.0V124.1M303 122.2V124.1M304 122.0V123.9M305 121.8V123.9M306 122.2V123.9M307 121.7V124.3M308 121.7V124.1M309 121.5V124.1M310 122.2V123.9M311 122.1V124.4M312 121.7V124.0M313 122.0V124.0M314 121.9V123.9M315 121.8V124.1M316 121.8V124.1M317 121.9V124.1M318 121.6V124.4M319 121.8V124.2M320 122.1V124.0M321 121.9V123.9M322 121.7V124.1M323 119.7V124.9M324 119.2V127.3M325 119.2V125.7M326 119.2V125.8M327 77.5V83.6M328 77.8V86.3M329 80.7V87.2M330 81.5V89.7M331 84.4V93.1M332 88.3V97.7M333 96.3V103.8M334 100.6V111.8M335 107.5V115.1M336 111.5V123.7M337 120.6V131.6M338 126.2V140.0M339 134.2V145.0M340 144.1V152.6M341 152.8V160.2M342 157.8V166.7M343 165.0V177.4M344 172.7V182.1M345 179.2V188.3M346 188.8V197.6M347 195.7V208.9M348 204.3V215.6M349 211.6V222.4M350 219.2V231.5M351 226.8V238.1M352 234.3V245.7M353 242.5V251.0M354 248.9V259.7M355 258.2V270.8M356 265.5V277.8M357 273.8V284.1M358 281.2V291.2M359 289.4V300.8M360 299.4V307.8M361 306.4V316.8M362 315.3V322.5M363 321.9V331.9M364 328.8V337.2M365 332.6V342.7M366 339.1V346.8M367 342.4V352.3M368 347.5V356.8M369 352.4V359.1M370 353.4V362.0M371 358.8V362.6M372 357.7V364.9M373 358.1V364.2M374 359.5V364.4M375 355.9V362.1M376 352.1V361.7M377 348.7V356.8M378 346.8V353.9M379 343.8V351.8M380 336.7V347.8M381 335.3V341.8M382 328.9V337.8M383 325.5V331.9M384 319.8V325.6M385 313.7V322.6M386 308.9V316.7M387 303.1V311.4M388 298.6V306.4M389 291.4V302.2M390 288.1V297.1M391 284.4V294.3M392 280.9V289.6M393 277.2V285.9M394 273.4V280.7M395 271.4V277.5M396 266.6V273.6M397 263.1V271.2M398 261.9V266.7M399 259.8V266.2M400 255.6V263.3M401 252.9V261.4M402 249.8V258.1M403 250.0V258.6M404 247.4V257.0M405 243.3V252.2M406 243.1V249.1M407 239.7V246.9M408 237.0V244.4M409 232.6V241.4M410 229.6V236.6M411 226.8V234.9M412 224.1V231.3M413 221.6V228.3M414 218.8V224.4M415 214.9V224.6M416 214.8V221.3M417 210.4V218.0M418 205.9V215.4M419 202.7V213.1M420 199.7V208.2M421 196.7V204.8M422 192.5V200.0M423 190.2V197.4M424 184.6V195.6M425 183.7V194.8M426 182.8V189.2M427 181.2V188.0M428 179.3V186.5M429 179.1V184.7M430 178.2V185.4M431 177.7V184.9M432 177.4V184.7M433 174.4V183.2M434 175.3V180.3M435 173.9V183.0M436 175.0V183.4M437 175.4V184.1M438 177.3V186.8M439 180.9V188.2M440 181.3V189.4M441 183.8V191.1M442 185.0V192.1M443 184.2V195.9M444 186.9V194.8M445 192.0V198.4M446 194.2V201.1M447 198.6V205.7M448 201.3V210.9M449 205.1V213.0M450 207.9V217.8M451 211.3V218.3M452 213.7V223.0M453 216.3V227.0M454 220.4V227.7M455 223.9V232.9M456 228.6V235.6M457 231.5V239.5M458 234.6V241.5M459 237.6V245.3M460 241.0V247.1M461 243.1V250.4M462 245.9V253.3M463 248.5V257.1M464 251.2V258.9M465 254.1V261.5M466 258.2V265.7M467 258.6V266.5M468 262.4V268.6M469 264.4V271.9M470 265.2V274.5M471 268.3V277.2M472 271.3V277.9M473 272.5V280.6M474 275.1V282.8M475 278.2V285.7M476 280.8V285.2M477 280.8V287.7M478 281.6V289.4M479 282.2V289.9M480 282.2V291.1M481 283.0V290.3M482 284.9V292.3M483 286.3V293.5M484 287.1V293.0M485 285.3V294.5M486 287.7V295.8M487 287.9V294.2M488 287.9V295.2M489 287.0V293.3M490 285.4V293.3M491 282.9V292.8M492 282.5V291.6M493 282.6V290.8M494 280.7V289.6M495 280.4V287.1M496 279.1V287.0M497 276.2V283.3M498 274.8V283.3M499 274.4V281.1M500 270.1V279.7M501 268.7V276.4M502 266.8V275.3M503 264.2V271.3M504 262.5V269.5M505 258.4V265.1M506 255.3V264.4M507 251.6V261.9M508 251.1V258.4M509 245.1V254.1M510 244.0V251.1M511 238.6V249.2M512 236.6V244.2M513 235.8V243.6M514 232.7V239.4M515 229.6V236.2M516 226.1V232.8M517 223.1V232.8M518 219.2V228.9M519 217.4V225.5M520 215.5V223.3M521 214.1V221.2M522 211.8V219.1M523 208.3V216.6M524 207.9V214.9M525 206.1V214.7M526 204.7V213.0M527 204.8V211.4M528 202.7V210.5M529 201.3V213.0M530 198.6V208.4M531 198.0V206.9M532 199.1V206.8M533 201.4V207.6M534 198.1V206.8M535 198.0V206.8M536 200.6V206.5M537 201.7V208.7M538 200.0V209.5M539 201.0V206.8M540 202.5V208.6M541 203.0V208.9M542 203.1V212.3M543 204.1V214.1M544 204.4V212.1M545 206.1V213.5M546 207.8V214.0M547 206.0V214.8M548 207.6V218.5M549 209.8V216.9M550 211.9V216.9M551 210.5V222.1M552 212.3V221.5M553 215.6V221.6M554 216.9V224.4M555 217.9V225.3M556 219.3V228.1M557 220.6V226.6M558 222.3V230.8M559 224.8V230.8M560 223.6V233.0M561 226.8V236.0M562 229.4V235.6M563 230.4V238.7M564 229.8V237.7M565 232.7V241.5M566 234.6V241.9M567 235.7V243.3M568 236.0V245.4M569 236.9V244.5M570 240.6V246.2M571 239.8V247.2M572 241.1V248.3M573 243.0V250.9M574 242.0V251.4M575 244.8V252.9M576 246.1V253.2M577 244.9V255.0M578 245.8V254.5M579 249.3V255.4M580 247.2V254.7M581 249.4V255.7M582 247.5V256.2M583 247.1V258.4M584 249.5V256.6M585 251.8V257.7M586 249.1V258.8M587 251.8V260.5M588 251.6V257.4M589 251.0V257.7M590 252.7V257.6M591 251.4V258.8M592 252.1V258.0M593 251.8V258.4M594 249.4V260.2M595 250.1V256.8M596 249.4V255.5M597 248.7V255.9M598 248.9V255.7M599 246.2V254.5M600 247.0V255.2M601 246.9V252.4M602 244.8V252.4M603 245.5V251.4M604 244.8V251.4M605 243.4V251.1M606 241.7V250.8M607 242.9V248.3M608 241.3V247.2M609 241.5V247.7M610 237.9V245.2M611 239.2V246.7M612 235.9V244.8M613 235.7V242.3M614 234.3V244.4M615 233.1V241.6M616 233.2V238.5M617 231.1V237.8M618 230.2V236.6M619 227.8V235.1M620 228.1V236.4M621 226.8V234.0M622 227.4V232.7M623 224.7V232.5M624 225.0V233.3M625 223.6V229.9M626 220.6V230.2M627 222.4V228.0M628 221.9V228.8M629 216.5V228.2M630 219.2V227.0M631 216.1V226.0M632 217.7V224.1M633 216.7V224.7M634 216.8V223.8M635 216.3V222.7M636 215.2V221.7M637 215.2V221.3M638 213.4V219.8M639 215.0V222.4M640 213.3V220.6M641 212.5V222.5M642 211.9V220.3M643 212.9V219.5M644 213.2V221.5M645 214.1V218.1M646 211.0V220.5M647 212.2V220.3M648 213.5V220.5M649 212.1V220.2M650 212.5V220.0M651 212.5V220.3M652 212.6V220.0M653 214.3V220.3M654 213.5V222.8M655 215.2V222.2M656 214.7V220.2M657 213.8V222.9M658 215.0V222.0M659 217.8V224.0M660 216.0V224.0M661 216.2V222.4M662 217.8V228.3M663 218.8V226.1M664 220.0V227.0M665 220.1V228.5M666 220.8V226.5M667 221.7V229.6M668 223.5V228.4M669 223.0V232.1M670 224.7V231.0M671 225.9V232.4M672 222.8V232.8M673 227.2V233.1M674 227.6V233.7M675 227.2V236.3M676 228.3V236.3M677 230.0V237.7M678 228.1V236.8M679 230.8V237.5M680 232.3V236.9M681 232.1V238.4M682 231.6V240.2M683 232.0V239.5M684 233.0V240.8M685 232.4V241.4M686 233.5V240.5M687 234.6V241.6M688 235.0V242.0M689 232.5V242.7M690 233.6V241.7M691 235.0V240.3M692 233.1V241.6M693 235.7V244.7M694 234.5V242.3M695 234.5V241.8M696 232.7V240.3M697 233.4V240.1M698 236.0V242.4M699 234.1V242.8M700 234.8V240.8M701 233.6V240.7M702 234.0V239.3M703 231.3V239.5M704 231.2V239.1M705 233.2V238.5M706 230.8V239.2M707 231.3V239.0M708 231.3V239.2M709 230.4V238.2M710 229.6V238.1M711 230.4V238.3M712 228.7V236.8M713 230.3V237.2M714 228.0V234.3M715 227.4V236.2M716 226.8V235.5M717 225.6V234.0M718 226.7V231.7M719 224.3V232.3M720 224.4V231.1M721 224.1V231.0M722 222.7V229.5M723 222.7V230.9M724 222.7V229.1M725 223.1V229.2M726 222.1V227.3M727 221.7V227.5M728 219.6V227.3M729 219.5V226.2M730 220.1V225.8M731 219.1V227.2M732 218.7V227.4M733 220.5V225.6M734 218.5V224.6M735 218.5V223.8M736 218.6V223.4M737 217.0V223.7M738 216.4V224.7M739 217.1V223.3M740 215.7V222.8M741 214.8V223.4M742 217.0V222.9M743 215.3V222.5M744 215.9V221.4M745 214.9V221.0M746 215.6V221.8M747 214.9V221.8M748 215.0V222.7M749 215.1V223.5M750 216.0V221.6M751 214.9V221.7M752 215.1V224.1M753 215.6V222.3M754 213.6V221.5M755 215.4V222.1M756 214.6V220.4M757 215.9V221.3M758 215.1V220.3M759 216.2V221.3M760 214.7V223.6M761 215.3V223.7M762 217.4V225.2M763 217.6V223.0M764 216.4V225.3M765 217.9V224.3M766 216.1V224.2M767 218.0V225.5M768 217.2V224.2M769 218.2V224.6M770 216.4V224.3M771 218.5V225.6M772 217.9V227.2M773 218.1V225.4M774 220.1V224.5M775 219.0V225.6M776 221.0V226.9M777 220.6V229.4M778 220.3V228.7M779 220.3V225.4M780 222.3V229.9M781 221.7V227.9M782 219.8V227.6M783 222.4V227.5M784 220.2V229.5M785 221.3V228.0M786 220.2V229.8M787 220.4V228.6M788 221.1V231.7M789 222.9V229.8M790 221.7V230.9M791 221.6V228.8M792 224.3V228.9M793 223.6V229.1M794 224.0V230.7M795 223.5V232.4M796 223.1V231.8M797 224.7V231.9M798 223.3V231.6M799 223.9V230.7M800 223.2V229.5M801 222.7V231.0M802 223.3V231.6M803 223.9V231.3M804 222.3V230.6M805 223.2V229.9M806 222.0V230.8M807 222.6V229.3M808 221.6V229.6M809 223.1V229.9M810 220.6V229.6M811 220.6V228.3M812 222.1V229.4M813 220.4V227.2M814 221.5V228.9M815 220.4V228.8M816 219.6V230.5M817 221.2V227.7M818 219.8V227.1M819 219.6V226.7M820 219.9V227.0M821 220.0V226.3M822 218.5V225.1M823 217.4V226.3M824 218.7V224.9M825 217.0V226.1M826 216.7V223.3M827 217.0V225.2M828 215.3V223.0M829 217.0V223.2M830 218.2V224.5M831 217.2V225.0M832 216.3V221.9M833 216.9V224.8M834 215.9V222.4M835 217.0V223.5M836 217.1V222.6M837 215.1V223.7M838 216.2V222.1M839 212.3V220.3M840 216.0V222.9M841 215.2V221.3M842 214.5V220.7M843 216.1V222.5M844 213.4V220.5M845 212.2V219.4M846 214.9V221.8M847 213.4V221.2M848 214.7V221.0M849 213.1V220.2M850 212.2V220.9M851 213.1V220.6M852 212.9V219.4M853 212.5V220.3M854 210.9V219.1M855 210.4V219.7M856 213.0V218.9M857 211.3V219.3M858 211.7V219.4M859 212.1V219.3M860 212.4V219.0M861 212.4V219.6M862 212.1V220.2M863 211.7V218.7M864 212.1V220.0M865 211.7V218.8M866 212.7V219.9M867 214.0V222.9M868 210.8V219.2M869 211.6V219.8M870 209.6V219.5M871 212.0V219.6M872 211.3V219.4M873 212.7V219.1M874 212.1V223.7M875 214.0V220.1M876 212.1V219.9M877 213.6V218.6M878 214.6V221.3M879 214.0V219.9M880 214.2V219.3M881 213.2V223.2M882 213.5V220.8M883 215.4V220.4M884 215.6V221.1M885 213.4V221.1M886 213.9V220.8M887 213.3V222.1M888 214.7V222.0M889 214.3V221.1M890 213.7V222.8M891 214.8V223.1M892 214.9V221.9M893 214.8V220.7M894 214.3V221.8M895 213.4V221.0M896 214.4V221.6M897 213.9V222.3M898 216.5V224.3M899 213.6V221.5M900 215.1V221.4M901 214.2V221.2M902 215.0V221.6M903 214.1V222.4M904 216.2V221.5M905 213.5V220.2M906 214.8V220.3M907 214.1V221.7M908 212.3V223.4M909 214.7V222.2M910 211.0V221.7M911 213.7V220.4M912 214.5V219.1M913 213.9V220.2M914 213.9V219.5M915 213.6V220.7M916 211.8V220.0M917 210.9V220.2M918 212.9V218.8M919 212.4V219.7M920 211.8V221.2M921 212.0V219.9M922 212.5V218.7M923 209.3V218.7M924 212.9V219.3M925 212.2V221.9M926 212.6V218.3M927 212.5V221.2M928 213.2V218.5M929 212.0V219.0M930 211.7V217.4M931 210.8V218.4M932 212.3V219.5M933 210.9V217.8M934 211.4V217.6M935 212.3V220.4M936 210.7V218.7M937 211.8V219.2M938 211.4V217.8M939 210.6V217.8M940 210.9V218.0M941 211.6V219.1M942 211.3V218.2M943 210.5V218.5M944 210.9V217.1M945 210.5V216.5M946 210.1V216.4M947 210.4V218.2M948 209.6V217.1M949 210.7V217.2M950 209.8V216.2M951 210.3V216.0M952 208.2V216.4M953 207.2V215.7M954 209.8V215.8M955 208.8V216.6M956 210.5V216.2M957 208.8V215.0M958 208.9V216.7M959 210.0V216.0M960 208.7V217.2M961 207.8V215.6M962 209.4V215.2M963 207.5V216.8M964 207.9V215.7M965 208.6V215.4M966 207.2V216.2M967 206.0V214.9M968 208.4V215.3M969 208.5V215.8M970 208.6V214.4M971 207.8V215.0M972 208.7V214.2M973 206.3V214.7M974 207.2V213.7M975 207.2V215.0M976 207.7V215.4M977 207.1V213.7M978 206.7V216.2M979 206.3V214.0M980 207.5V214.2M981 205.7V213.0M982 207.3V214.0M983 204.8V214.7M984 208.0V213.3M985 207.0V213.7M986 208.1V213.5M987 206.9V212.4M988 207.5V213.2M989 205.5V215.1M990 205.4V213.5M991 206.6V213.8M992 206.8V212.9M993 206.6V212.3M994 207.1V212.5M995 205.9V214.2M996 204.7V212.9M997 203.9V212.7M998 206.2V212.2M999 206.3V212.8M1000 204.9V213.3M1001 205.4V213.3M1002 203.0V213.6M1003 205.4V211.9M1004 202.7V213.6M1005 203.0V212.3M1006 204.1V212.7M1007 204.6V212.6M1008 204.1V214.0M1009 206.0V211.3M1010 204.2V212.5M1011 205.0V210.8M1012 203.5V212.7M1013 205.6V211.5M1014 205.3V211.1M1015 202.1V210.0M1016 205.0V210.2M1017 205.1V213.6M1018 202.9V211.7M1019 205.5V212.3M1020 203.5V211.7M1021 203.9V210.4M1022 203.7V209.5M1023 204.7V210.9M1024 204.6V213.1M1025 203.6V211.4M1026 203.0V211.4M1027 203.3V210.3M1028 203.1V210.3M1029 201.3V209.5M1030 203.1V210.5M1031 203.9V210.4M1032 204.5V210.5M1033 204.2V211.6M1034 201.3V209.8M1035 202.7V211.1M1036 203.5V209.3M1037 204.4V211.4M1038 202.2V208.5M1039 203.2V211.9M1040 204.4V211.3M1041 203.9V209.8M1042 200.3V210.9M1043 201.6V209.1M1044 203.9V210.8M1045 202.4V209.4M1046 201.6V210.4M1047 202.7V209.1M1048 203.7V208.6M1049 202.8V208.4M1050 203.8V210.6M1051 202.9V209.7M1052 201.3V210.7M1053 201.4V209.9M1054 202.8V211.0M1055 202.2V208.9M1056 201.9V208.2M1057 201.5V209.5M1058 203.2V211.3M1059 202.2V208.2M1060 201.5V209.7M1061 198.8V208.7M1062 203.7V207.8M1063 200.9V207.6M1064 202.0V208.6M1065 202.5V208.6M1066 200.3V209.6M1067 201.3V208.0M1068 200.8V210.8M1069 200.6V208.6M1070 200.8V207.6M1071 202.6V208.7M1072 201.9V208.6M1073 202.3V208.7M1074 201.7V209.6M1075 200.9V207.2M1076 200.6V208.2M1077 200.9V207.0M1078 200.3V208.5M1079 200.3V206.5M1080 202.2V208.3M1081 201.4V206.7M1082 199.5V206.5M1083 201.5V207.5M1084 200.8V208.5M1085 200.0V206.5M1086 200.7V207.6M1087 200.9V206.7M1088 202.0V207.9M1089 201.4V207.1M1090 199.0V207.8M1091 200.8V206.2M1092 200.1V205.2M1093 198.4V207.2M1094 201.2V206.0M1095 200.3V206.2M1096 197.0V205.3M1097 199.3V207.8M1098 200.4V208.2M1099 198.3V207.8M1100 199.6V207.2M1101 199.2V208.2M1102 197.2V209.6M1103 200.1V206.6M1104 198.9V205.5M1105 199.1V206.0M1106 198.6V205.5M1107 198.2V206.5M1108 199.0V205.6M1109 197.4V204.2M1110 198.3V205.1M1111 198.4V204.8M1112 199.4V205.5M1113 198.6V207.2M1114 199.6V206.1M1115 199.4V206.9M1116 198.1V208.1M1117 198.3V203.8M1118 196.5V205.3M1119 197.0V206.1M1120 198.1V206.4M1121 198.7V206.1M1122 199.2V208.2M1123 198.6V204.7M1124 199.0V204.3M1125 197.5V207.1M1126 197.9V206.7M1127 198.1V206.6M1128 198.4V204.7M1129 197.3V205.6M1130 199.6V204.9M1131 195.7V203.9M1132 197.1V204.1M1133 199.4V204.8M1134 198.3V203.3M1135 198.8V204.2M1136 198.6V204.9M1137 198.0V204.7M1138 197.9V205.1M1139 198.4V204.9M1140 197.9V206.5M1141 197.4V204.5M1142 195.8V204.6M1143 197.6V205.4M1144 195.7V205.0M1145 195.2V205.5M1146 199.6V207.5M1147 197.8V204.3M1148 198.7V206.1M1149 198.0V203.4M1150 198.2V205.1M1151 195.1V205.6M1152 198.8V204.0M1153 196.8V205.5M1154 197.3V204.6M1155 197.1V204.4M1156 195.6V204.7M1157 198.0V204.7M1158 194.9V203.6M1159 197.2V202.6M1160 195.3V202.5M1161 197.3V203.7M1162 197.2V202.9M1163 196.0V203.4M1164 196.4V203.7M1165 196.1V204.0M1166 198.4V203.7M1167 196.6V203.3M1168 196.9V204.3M1169 198.2V204.6M1170 196.4V205.7M1171 194.2V203.7M1172 196.7V204.5M1173 195.7V203.6M1174 198.6V205.3M1175 196.0V202.4M1176 195.4V203.7M1177 197.3V203.6M1178 196.2V206.2M1179 197.9V202.0M1180 196.9V202.9M1181 195.1V202.8M1182 197.5V204.1M1183 195.6V201.7M1184 196.9V204.1M1185 194.6V201.9M1186 195.0V202.0M1187 195.9V202.9M1188 193.5V203.5M1189 194.3V203.5M1190 196.3V202.6M1191 196.1V201.6M1192 196.5V202.7M1193 196.6V202.4M1194 195.3V201.4M1195 193.0V203.0M1196 195.8V203.0M1197 196.7V201.5M1198 196.3V202.4M1199 196.6V204.0M1200 196.0V203.6M1201 192.7V201.9M1202 196.0V201.5M1203 194.5V202.7M1204 195.3V201.3M1205 194.8V202.9M1206 192.1V201.3M1207 194.7V203.5M1208 191.9V205.0M1209 195.3V202.5M1210 194.5V202.3M1211 196.2V200.5M1212 194.7V200.4M1213 195.0V203.2M1214 195.1V200.1M1215 192.4V201.2M1216 193.5V199.7M1217 195.1V203.2M1218 194.3V202.3M1219 195.8V201.7M1220 194.4V202.5M1221 194.5V200.6M1222 195.8V203.9M1223 193.0V202.0M1224 194.2V201.7M1225 193.3V203.9M1226 192.2V200.3M1227 193.5V199.5M1228 194.4V200.6M1229 194.0V199.6M1230 194.6V200.7M1231 193.1V201.6M1232 194.3V200.6M1233 193.2V199.3M1234 193.6V199.6M1235 192.9V200.9M1236 193.0V200.3M1237 193.8V200.4M1238 191.4V201.9M1239 194.6V200.2M1240 193.7V201.2M1241 195.4V200.9M1242 192.9V200.3M1243 194.1V202.4M1244 194.0V202.2M1245 193.0V199.3M1246 190.9V201.1M1247 193.0V201.7M1248 192.3V201.6M1249 193.8V201.5M1250 192.6V200.5M1251 193.1V200.4M1252 193.2V198.8M1253 192.1V201.0M1254 194.2V199.8M1255 192.1V200.5M1256 192.0V200.0M1257 191.6V200.2M1258 193.6V199.2M1259 194.5V200.7M1260 191.6V199.5M1261 193.2V199.1M1262 194.2V199.5M1263 193.9V198.8M1264 193.2V200.0M1265 192.6V199.6M1266 193.0V201.5M1267 191.0V201.4M1268 191.5V199.9M1269 191.3V199.4M1270 190.2V201.4M1271 191.6V200.8M1272 191.5V199.3M1273 191.8V197.3M1274 191.5V200.6M1275 191.2V198.1M1276 193.1V200.5M1277 193.5V198.8M1278 192.5V200.5M1279 192.1V201.1M1280 192.7V198.7M1281 193.3V199.4M1282 190.9V200.1M1283 194.0V200.4M1284 191.8V198.9M1285 193.0V199.8M1286 190.7V198.2M1287 191.6V198.5M1288 191.8V198.9M1289 192.1V198.8M1290 192.2V199.3M1291 191.5V199.2M1292 192.8V197.8M1293 190.7V197.3M1294 190.7V199.7M1295 190.9V198.9M1296 191.2V199.8M1297 191.2V197.2M1298 191.5V197.3M1299 191.4V198.6M1300 192.2V197.9M1301 192.6V199.0M1302 192.3V197.9M1303 190.7V198.0M1304 191.3V196.6M1305 191.3V198.4M1306 192.4V197.8M1307 189.4V199.9M1308 191.6V197.7M1309 191.0V196.2M1310 190.2V196.5M1311 189.5V196.5M1312 192.1V197.0M1313 192.0V197.3M1314 190.3V198.3M1315 191.5V197.0M1316 190.9V198.5M1317 192.0V199.0M1318 189.9V197.0M1319 191.5V198.6M1320 187.4V196.5M1321 190.2V198.1M1322 191.2V197.3M1323 189.2V198.5M1324 189.6V196.8M1325 192.1V198.2M1326 189.5V195.8M1327 188.6V196.3M1328 189.7V196.5M1329 188.9V198.3M1330 189.5V197.9M1331 189.8V198.3M1332 189.3V196.3M1333 190.5V198.1M1334 190.7V197.1M1335 190.6V196.7M1336 191.2V197.9M1337 190.7V199.6M1338 189.9V197.2M1339 188.8V197.0M1340 192.2V197.4M1341 188.3V196.4M1342 187.4V197.1M1343 191.3V195.9M1344 189.4V196.6M1345 189.7V196.0M1346 188.6V197.9M1347 188.9V196.0M1348 188.7V197.0M1349 188.8V196.8M1350 190.4V197.8M1351 188.4V196.7M1352 188.5V198.9M1353 191.2V196.2M1354 189.1V196.8M1355 190.0V198.0M1356 190.3V197.2M1357 189.8V197.9M1358 189.9V195.4M1359 189.6V195.8M1360 187.3V196.3M1361 189.4V197.3M1362 189.1V196.2M1363 189.3V198.3M1364 188.4V194.4M1365 187.3V194.7M1366 189.9V198.3M1367 189.1V196.5M1368 189.1V194.8M1369 189.2V195.9M1370 187.9V196.3M1371 190.3V197.7M1372 189.6V196.1M1373 187.4V198.5M1374 188.0V196.2M1375 187.5V195.6M1376 188.6V194.3M1377 188.9V195.4M1378 186.7V195.6M1379 188.6V194.7M1380 188.2V196.8M1381 188.0V197.4M1382 188.7V196.8M1383 188.7V195.7M1384 189.4V196.0M1385 188.4V194.3M1386 187.4V195.4M1387 188.4V196.0M1388 187.1V195.5M1389 190.3V196.6M1390 187.9V195.7M1391 187.9V194.4M1392 189.5V196.4M1393 186.2V196.5M1394 188.4V195.2M1395 189.4V196.2M1396 188.1V195.9M1397 188.8V194.6M1398 187.7V195.7M1399 187.7V196.0M1400 186.9V195.0M1401 188.3V194.4M1402 187.5V195.4M1403 187.8V197.1M1404 188.3V194.9M1405 188.7V194.3M1406 186.8V196.0M1407 186.4V197.8M1408 187.1V195.2M1409 188.4V195.4M1410 187.2V194.9M1411 188.4V195.1M1412 186.8V195.4M1413 188.2V194.4M1414 188.1V195.4M1415 189.0V197.3M1416 187.7V193.9M1417 185.9V193.7M1418 187.1V194.2M1419 187.7V194.6M1420 187.0V194.6M1421 187.0V196.5M1422 189.9V194.1M1423 186.2V193.2" stroke="#f00" stroke-width="2" shape-rendering="crispEdges"/>
<path d="M322.3 101L322.6 84L323.2 78L326 79L329 82L332 86L333.4 93L334.6 101L331.5 103L329.8 97L328 103.5L326.8 110L326.8 130.6L324.2 130.6L324.2 104Z" fill="#f00" stroke="none"/>
<path d="M324.3 112.0L324.8 147.0L325.3 182.3L325.8 217.5L326.3 252.3L326.8 286.6L327.3 320.4L327.8 355.5L328.3 390.2L328.8 423.0L329.3 452.1L329.8 476.1L330.3 497.5L330.8 517.3L331.3 535.6L331.8 552.6L332.3 568.5L332.8 583.3L333.3 597.3L333.8 610.5L334.3 622.9L334.8 634.5L335.3 645.2L335.8 655.1L336.3 664.1L336.8 672.4L337.3 680.1L337.8 687.3L338.3 694.3L338.8 701.1L339.3 708.1L339.8 715.5L340.3 723.4L340.8 731.5L341.3 739.2L341.8 746.1L342.3 751.7L342.8 755.8L343.3 759.3L343.8 762.4L344.3 765.1L344.8 767.6L345.3 769.9L345.8 772.2L346.3 774.4L346.8 776.7L347.3 779.0L347.8 781.3L348.3 783.5L348.8 785.6L349.3 787.5L349.8 789.4L350.3 791.1L350.8 792.6L351.3 794.0L351.8 795.4L352.3 796.8L352.8 798.1L353.3 799.2L353.8 800.3L354.3 801.3L354.8 802.2L355.3 803.0L355.8 803.7L356.3 804.4L356.8 805.1L357.3 805.7L357.8 806.3L358.3 806.9L358.8 807.4L359.3 807.9L359.8 808.2L360.3 808.6L360.8 808.8L361.3 809.0L361.8 809.1L362.3 809.2L362.8 809.4L363.3 809.5L363.8 809.6L364.3 809.6L364.8 809.7L365.3 809.8L365.8 809.9L366.3 809.9" stroke="#008000" stroke-width="3.8" stroke-linejoin="round"/>
<path d="M274 102.2V121.8M275 89.4V121.8M276 95.8V115.4M277 95.8V121.8M278 95.8V121.8M279 95.8V121.8M280 95.8V121.8M281 89.4V121.8M282 102.2V115.4M283 102.2V121.8M284 95.8V121.8M285 95.8V121.8M286 95.8V121.8M287 95.8V121.8M288 95.8V121.8M289 95.8V128.2M290 95.8V121.8M291 95.8V121.8M292 89.4V121.8M293 95.8V121.8M294 102.2V121.8M295 95.8V121.8M296 95.8V121.8M297 95.8V121.8M298 89.4V121.8M299 95.8V121.8M300 89.4V121.8M301 95.8V121.8M302 89.4V121.8M303 95.8V115.4M304 95.8V121.8M305 95.8V121.8M306 95.8V115.4M307 95.8V128.2M308 95.8V121.8M309 95.8V115.4M310 95.8V121.8M311 95.8V121.8M312 102.2V121.8M313 95.8V121.8M314 95.8V121.8M315 89.4V121.8M316 95.8V121.8M317 89.4V121.8M318 95.8V121.8M319 102.2V115.4M320 95.8V121.8M321 89.4V115.4M322 95.8V121.8M323 102.2V121.8M324 102.3V144.7M325 144.3V214.7M326 207.3V284.7M327 277.3V354.7M328 347.3V424.7M329 417.3V473.7M330 480.3V515.7M331 515.3V557.7M332 550.3V585.7M333 578.3V620.7M334 606.3V641.7M335 634.3V655.7M336 641.3V676.7M337 662.3V690.7M338 683.3V704.7M339 697.3V725.7M340 711.3V739.7M341 725.3V753.7M342 746.3V760.7M343 753.3V774.7M344 753.3V774.7M345 753.3V788.7M346 760.3V788.7M347 774.3V788.7M348 760.3V795.7M349 774.3V802.7M350 781.3V802.7M351 781.3V802.7M352 781.3V809.7M353 795.3V816.7M354 788.3V816.7M355 788.3V816.7M356 795.3V816.7M357 795.3V816.7M358 795.3V816.7M359 795.3V816.7M360 795.3V816.7M361 795.3V823.7M362 795.3V816.7M363 802.3V823.7M364 802.3V823.7M365 802.3V816.7M366 795.3V823.7M367 795.3V816.7M368 795.3V823.7M369 802.3V823.7M370 802.3V823.7M371 802.3V823.7M372 802.3V823.7M373 795.3V823.7M374 795.3V816.7M375 795.3V823.7M376 795.3V823.7M377 802.3V823.7M378 795.3V823.7M379 795.3V823.7M380 795.3V816.7M381 795.3V823.7M382 795.3V816.7M383 795.3V816.7M384 802.3V816.7M385 795.3V823.7M386 795.3V823.7M387 795.3V816.7M388 795.3V816.7M389 795.3V823.7M390 795.3V816.7M391 795.3V823.7M392 795.3V823.7M393 795.3V823.7M394 795.3V816.7M395 788.3V816.7M396 788.3V816.7M397 795.3V816.7M398 795.3V809.7M399 795.3V816.7M400 788.3V823.7M401 795.3V816.7M402 795.3V809.7M403 788.3V816.7M404 795.3V816.7M405 788.3V809.7M406 788.3V816.7M407 795.3V816.7M408 795.3V823.7M409 788.3V816.7M410 795.3V816.7M411 788.3V823.7M412 788.3V816.7M413 788.3V809.7M414 788.3V809.7M415 795.3V816.7M416 788.3V809.7M417 774.3V816.7M418 788.3V802.7M419 788.3V809.7M420 781.3V809.7M421 781.3V809.7M422 781.3V816.7M423 781.3V802.7M424 788.3V802.7M425 781.3V802.7M426 781.3V802.7M427 781.3V802.7M428 781.3V802.7M429 781.3V802.7M430 781.3V802.7M431 774.3V795.7M432 781.3V802.7M433 774.3V802.7M434 781.3V802.7M435 781.3V802.7M436 774.3V795.7M437 774.3V802.7M438 781.3V795.7M439 774.3V802.7M440 774.3V795.7M441 774.3V795.7M442 774.3V802.7M443 774.3V795.7M444 774.3V802.7M445 774.3V795.7M446 781.3V795.7M447 767.3V795.7M448 774.3V802.7M449 774.3V788.7M450 767.3V795.7M451 767.3V795.7M452 774.3V788.7M453 774.3V802.7M454 767.3V788.7M455 767.3V788.7M456 760.3V788.7M457 767.3V788.7M458 767.3V795.7M459 767.3V795.7M460 767.3V788.7M461 767.3V788.7M462 760.3V788.7M463 767.3V795.7M464 767.3V788.7M465 760.3V788.7M466 767.3V788.7M467 760.3V788.7M468 767.3V781.7M469 760.3V788.7M470 767.3V781.7M471 767.3V788.7M472 760.3V788.7M473 753.3V788.7M474 753.3V781.7M475 760.3V781.7M476 760.3V781.7M477 760.3V788.7M478 760.3V781.7M479 753.3V781.7M480 753.3V781.7M481 753.3V781.7M482 760.3V781.7M483 753.3V781.7M484 767.3V781.7M485 753.3V781.7M486 753.3V781.7M487 760.3V781.7M488 753.3V774.7M489 760.3V788.7M490 760.3V774.7M491 753.3V774.7M492 746.3V781.7M493 753.3V781.7M494 746.3V781.7M495 753.3V774.7M496 753.3V781.7M497 753.3V774.7M498 753.3V788.7M499 753.3V774.7M500 753.3V774.7M501 753.3V774.7M502 753.3V774.7M503 753.3V781.7M504 746.3V767.7M505 746.3V774.7M506 746.3V774.7M507 746.3V774.7M508 746.3V774.7M509 746.3V767.7M510 746.3V767.7M511 739.3V774.7M512 746.3V767.7M513 739.3V767.7M514 739.3V767.7M515 746.3V760.7M516 746.3V767.7M517 739.3V774.7M518 746.3V767.7M519 746.3V767.7M520 746.3V760.7M521 746.3V760.7M522 746.3V767.7M523 739.3V767.7M524 739.3V760.7M525 739.3V760.7M526 739.3V760.7M527 739.3V760.7M528 732.3V767.7M529 739.3V760.7M530 739.3V760.7M531 739.3V760.7M532 732.3V767.7M533 739.3V760.7M534 732.3V760.7M535 739.3V753.7M536 739.3V760.7M537 732.3V753.7M538 732.3V760.7M539 732.3V753.7M540 732.3V753.7M541 732.3V753.7M542 732.3V760.7M543 732.3V753.7M544 732.3V753.7M545 732.3V760.7M546 732.3V753.7M547 732.3V753.7M548 732.3V753.7M549 725.3V753.7M550 732.3V753.7M551 732.3V753.7M552 725.3V753.7M553 732.3V753.7M554 718.3V753.7M555 725.3V753.7M556 732.3V753.7M557 725.3V746.7M558 725.3V746.7M559 725.3V753.7M560 725.3V746.7M561 732.3V753.7M562 725.3V746.7M563 718.3V746.7M564 725.3V753.7M565 725.3V753.7M566 725.3V746.7M567 718.3V753.7M568 725.3V746.7M569 725.3V739.7M570 718.3V746.7M571 725.3V746.7M572 718.3V746.7M573 718.3V739.7M574 718.3V739.7M575 725.3V746.7M576 718.3V739.7M577 711.3V746.7M578 718.3V739.7M579 718.3V732.7M580 718.3V732.7M581 718.3V746.7M582 718.3V739.7M583 718.3V732.7M584 718.3V739.7M585 718.3V739.7M586 711.3V739.7M587 718.3V739.7M588 718.3V739.7M589 718.3V739.7M590 718.3V739.7M591 718.3V739.7M592 711.3V739.7M593 711.3V739.7M594 711.3V732.7M595 711.3V732.7M596 711.3V732.7M597 711.3V732.7M598 711.3V739.7M599 711.3V732.7M600 711.3V732.7M601 711.3V732.7M602 711.3V739.7M603 711.3V732.7M604 711.3V732.7M605 704.3V732.7M606 704.3V725.7M607 711.3V732.7M608 711.3V725.7M609 704.3V732.7M610 704.3V732.7M611 704.3V732.7M612 704.3V732.7M613 704.3V725.7M614 704.3V732.7M615 704.3V732.7M616 704.3V725.7M617 704.3V732.7M618 704.3V725.7M619 704.3V725.7M620 711.3V725.7M621 704.3V725.7M622 704.3V725.7M623 704.3V725.7M624 704.3V725.7M625 704.3V725.7M626 697.3V725.7M627 704.3V725.7M628 697.3V732.7M629 704.3V718.7M630 704.3V718.7M631 704.3V732.7M632 697.3V725.7M633 697.3V718.7M634 704.3V725.7M635 697.3V718.7M636 697.3V718.7M637 697.3V725.7M638 697.3V711.7M639 697.3V718.7M640 697.3V718.7M641 690.3V718.7M642 697.3V718.7M643 697.3V718.7M644 697.3V718.7M645 697.3V718.7M646 690.3V718.7M647 697.3V718.7M648 690.3V718.7M649 697.3V718.7M650 690.3V711.7M651 690.3V718.7M652 690.3V711.7M653 690.3V711.7M654 690.3V711.7M655 697.3V711.7M656 683.3V718.7M657 690.3V711.7M658 690.3V711.7M659 690.3V711.7M660 683.3V711.7M661 690.3V711.7M662 690.3V711.7M663 690.3V718.7M664 690.3V718.7M665 683.3V711.7M666 690.3V711.7M667 690.3V704.7M668 683.3V711.7M669 683.3V711.7M670 690.3V704.7M671 683.3V711.7M672 683.3V711.7M673 683.3V711.7M674 690.3V704.7M675 683.3V704.7M676 683.3V711.7M677 676.3V704.7M678 683.3V711.7M679 683.3V704.7M680 676.3V704.7M681 683.3V711.7M682 683.3V704.7M683 683.3V704.7M684 683.3V704.7M685 683.3V704.7M686 683.3V704.7M687 676.3V697.7M688 683.3V704.7M689 676.3V697.7M690 676.3V697.7M691 676.3V704.7M692 676.3V697.7M693 676.3V704.7M694 676.3V697.7M695 683.3V704.7M696 669.3V697.7M697 676.3V704.7M698 676.3V704.7M699 676.3V697.7M700 676.3V697.7M701 676.3V704.7M702 676.3V690.7M703 676.3V697.7M704 676.3V697.7M705 669.3V704.7M706 662.3V697.7M707 669.3V697.7M708 669.3V697.7M709 669.3V697.7M710 676.3V697.7M711 662.3V690.7M712 669.3V697.7M713 669.3V697.7M714 669.3V697.7M715 676.3V697.7M716 669.3V697.7M717 669.3V690.7M718 669.3V690.7M719 669.3V697.7M720 669.3V690.7M721 669.3V690.7M722 669.3V690.7M723 662.3V690.7M724 669.3V690.7M725 669.3V690.7M726 669.3V697.7M727 669.3V690.7M728 662.3V690.7M729 662.3V690.7M730 669.3V690.7M731 662.3V690.7M732 662.3V697.7M733 662.3V690.7M734 669.3V690.7M735 669.3V690.7M736 662.3V690.7M737 669.3V683.7M738 669.3V690.7M739 662.3V683.7M740 669.3V690.7M741 669.3V683.7M742 662.3V690.7M743 662.3V683.7M744 662.3V683.7M745 662.3V683.7M746 662.3V683.7M747 662.3V683.7M748 655.3V683.7M749 655.3V683.7M750 662.3V683.7M751 655.3V676.7M752 662.3V690.7M753 662.3V683.7M754 655.3V683.7M755 662.3V683.7M756 662.3V683.7M757 655.3V676.7M758 655.3V676.7M759 655.3V690.7M760 655.3V683.7M761 655.3V683.7M762 662.3V676.7M763 655.3V676.7M764 655.3V683.7M765 655.3V683.7M766 662.3V683.7M767 648.3V676.7M768 655.3V676.7M769 655.3V676.7M770 655.3V676.7M771 648.3V676.7M772 648.3V676.7M773 648.3V676.7M774 655.3V669.7M775 655.3V676.7M776 655.3V676.7M777 648.3V676.7M778 655.3V676.7M779 648.3V676.7M780 655.3V676.7M781 655.3V676.7M782 655.3V676.7M783 655.3V676.7M784 655.3V676.7M785 648.3V676.7M786 655.3V669.7M787 648.3V669.7M788 648.3V676.7M789 648.3V669.7M790 648.3V669.7M791 648.3V676.7M792 648.3V676.7M793 648.3V676.7M794 648.3V669.7M795 648.3V669.7M796 648.3V676.7M797 648.3V669.7M798 641.3V676.7M799 648.3V669.7M800 648.3V676.7M801 648.3V669.7M802 648.3V676.7M803 648.3V669.7M804 641.3V662.7M805 641.3V669.7M806 648.3V669.7M807 641.3V669.7M808 641.3V669.7M809 641.3V669.7M810 634.3V669.7M811 641.3V669.7M812 648.3V669.7M813 641.3V662.7M814 641.3V662.7M815 641.3V662.7M816 634.3V669.7M817 641.3V669.7M818 641.3V662.7M819 634.3V669.7M820 634.3V669.7M821 634.3V662.7M822 634.3V662.7M823 641.3V655.7M824 641.3V662.7M825 641.3V662.7M826 641.3V662.7M827 634.3V662.7M828 634.3V662.7M829 641.3V669.7M830 634.3V662.7M831 634.3V662.7M832 634.3V655.7M833 634.3V669.7M834 634.3V662.7M835 634.3V662.7M836 634.3V655.7M837 634.3V662.7M838 634.3V662.7M839 634.3V662.7M840 634.3V655.7M841 627.3V648.7M842 634.3V655.7M843 634.3V655.7M844 634.3V648.7M845 627.3V669.7M846 627.3V655.7M847 634.3V655.7M848 627.3V662.7M849 634.3V655.7M850 627.3V648.7M851 627.3V655.7M852 627.3V655.7M853 627.3V655.7M854 634.3V655.7M855 620.3V655.7M856 627.3V648.7M857 627.3V655.7M858 627.3V648.7M859 634.3V648.7M860 627.3V655.7M861 627.3V655.7M862 627.3V648.7M863 627.3V648.7M864 627.3V641.7M865 627.3V648.7M866 627.3V648.7M867 627.3V641.7M868 620.3V648.7M869 620.3V648.7M870 620.3V641.7M871 620.3V641.7M872 627.3V648.7M873 627.3V648.7M874 627.3V648.7M875 620.3V648.7M876 613.3V641.7M877 620.3V641.7M878 627.3V648.7M879 620.3V641.7M880 620.3V641.7M881 620.3V641.7M882 620.3V641.7M883 620.3V641.7M884 620.3V641.7M885 613.3V648.7M886 613.3V641.7M887 613.3V641.7M888 620.3V641.7M889 613.3V641.7M890 613.3V641.7M891 613.3V641.7M892 613.3V641.7M893 620.3V641.7M894 613.3V634.7M895 620.3V641.7M896 613.3V641.7M897 620.3V634.7M898 613.3V641.7M899 613.3V641.7M900 613.3V634.7M901 606.3V641.7M902 613.3V634.7M903 613.3V634.7M904 613.3V641.7M905 613.3V648.7M906 613.3V641.7M907 606.3V634.7M908 606.3V634.7M909 613.3V627.7M910 606.3V627.7M911 606.3V634.7M912 606.3V627.7M913 606.3V627.7M914 613.3V634.7M915 613.3V634.7M916 606.3V627.7M917 613.3V634.7M918 606.3V634.7M919 613.3V627.7M920 606.3V634.7M921 606.3V627.7M922 606.3V627.7M923 599.3V627.7M924 599.3V627.7M925 606.3V627.7M926 606.3V627.7M927 606.3V634.7M928 606.3V627.7M929 606.3V627.7M930 606.3V627.7M931 599.3V627.7M932 606.3V627.7M933 606.3V627.7M934 599.3V627.7M935 599.3V627.7M936 599.3V627.7M937 599.3V627.7M938 592.3V627.7M939 606.3V620.7M940 606.3V627.7M941 606.3V627.7M942 599.3V627.7M943 599.3V627.7M944 599.3V620.7M945 599.3V627.7M946 599.3V627.7M947 599.3V620.7M948 599.3V620.7M949 592.3V620.7M950 599.3V620.7M951 599.3V620.7M952 592.3V620.7M953 592.3V620.7M954 592.3V613.7M955 592.3V620.7M956 599.3V620.7M957 599.3V613.7M958 599.3V627.7M959 599.3V620.7M960 592.3V620.7M961 599.3V620.7M962 592.3V620.7M963 592.3V613.7M964 592.3V613.7M965 599.3V620.7M966 592.3V620.7M967 592.3V620.7M968 592.3V613.7M969 592.3V627.7M970 599.3V613.7M971 592.3V613.7M972 599.3V613.7M973 592.3V620.7M974 592.3V613.7M975 585.3V613.7M976 585.3V620.7M977 592.3V613.7M978 592.3V613.7M979 585.3V613.7M980 585.3V613.7M981 585.3V613.7M982 585.3V613.7M983 592.3V613.7M984 592.3V606.7M985 592.3V613.7M986 592.3V613.7M987 592.3V613.7M988 585.3V606.7M989 592.3V606.7M990 585.3V613.7M991 585.3V606.7M992 571.3V606.7M993 592.3V606.7M994 585.3V613.7M995 578.3V613.7M996 585.3V606.7M997 578.3V613.7M998 585.3V613.7M999 585.3V606.7M1000 585.3V606.7M1001 585.3V606.7M1002 585.3V606.7M1003 585.3V606.7M1004 578.3V606.7M1005 585.3V606.7M1006 585.3V606.7M1007 578.3V606.7M1008 585.3V606.7M1009 585.3V613.7M1010 585.3V606.7M1011 571.3V606.7M1012 585.3V606.7M1013 578.3V599.7M1014 578.3V599.7M1015 585.3V599.7M1016 578.3V599.7M1017 578.3V606.7M1018 578.3V599.7M1019 578.3V606.7M1020 578.3V606.7M1021 578.3V599.7M1022 578.3V606.7M1023 578.3V599.7M1024 578.3V606.7M1025 578.3V599.7M1026 578.3V599.7M1027 578.3V599.7M1028 578.3V599.7M1029 578.3V599.7M1030 578.3V606.7M1031 578.3V599.7M1032 578.3V599.7M1033 578.3V599.7M1034 578.3V599.7M1035 564.3V599.7M1036 578.3V599.7M1037 571.3V599.7M1038 578.3V592.7M1039 571.3V599.7M1040 578.3V592.7M1041 571.3V592.7M1042 571.3V599.7M1043 564.3V606.7M1044 571.3V592.7M1045 571.3V592.7M1046 571.3V592.7M1047 571.3V592.7M1048 571.3V599.7M1049 564.3V599.7M1050 564.3V592.7M1051 571.3V592.7M1052 564.3V599.7M1053 564.3V592.7M1054 571.3V592.7M1055 564.3V599.7M1056 571.3V592.7M1057 571.3V592.7M1058 564.3V592.7M1059 571.3V592.7M1060 571.3V592.7M1061 564.3V585.7M1062 571.3V592.7M1063 564.3V585.7M1064 557.3V585.7M1065 564.3V592.7M1066 564.3V592.7M1067 564.3V592.7M1068 564.3V585.7M1069 564.3V585.7M1070 557.3V585.7M1071 564.3V585.7M1072 564.3V585.7M1073 557.3V585.7M1074 564.3V585.7M1075 564.3V585.7M1076 564.3V592.7M1077 564.3V585.7M1078 564.3V592.7M1079 564.3V585.7M1080 564.3V585.7M1081 557.3V585.7M1082 564.3V592.7M1083 564.3V585.7M1084 557.3V585.7M1085 564.3V585.7M1086 564.3V585.7M1087 557.3V578.7M1088 557.3V578.7M1089 557.3V578.7M1090 564.3V578.7M1091 557.3V578.7M1092 557.3V585.7M1093 557.3V592.7M1094 564.3V585.7M1095 557.3V578.7M1096 557.3V585.7M1097 557.3V585.7M1098 557.3V578.7M1099 557.3V578.7M1100 557.3V578.7M1101 557.3V578.7M1102 557.3V578.7M1103 550.3V578.7M1104 557.3V578.7M1105 550.3V578.7M1106 550.3V578.7M1107 557.3V578.7M1108 557.3V578.7M1109 557.3V578.7M1110 557.3V578.7M1111 550.3V578.7M1112 557.3V578.7M1113 550.3V571.7M1114 557.3V571.7M1115 550.3V578.7M1116 550.3V585.7M1117 550.3V571.7M1118 550.3V578.7M1119 550.3V578.7M1120 550.3V571.7M1121 550.3V578.7M1122 550.3V578.7M1123 550.3V571.7M1124 550.3V571.7M1125 550.3V578.7M1126 550.3V571.7M1127 557.3V571.7M1128 550.3V578.7M1129 550.3V571.7M1130 550.3V578.7M1131 550.3V578.7M1132 543.3V571.7M1133 550.3V571.7M1134 550.3V571.7M1135 543.3V571.7M1136 550.3V564.7M1137 543.3V571.7M1138 543.3V571.7M1139 550.3V564.7M1140 543.3V564.7M1141 543.3V564.7M1142 543.3V571.7M1143 550.3V571.7M1144 550.3V564.7M1145 543.3V564.7M1146 543.3V564.7M1147 543.3V564.7M1148 543.3V564.7M1149 543.3V564.7M1150 543.3V564.7M1151 543.3V564.7M1152 543.3V564.7M1153 543.3V564.7M1154 543.3V564.7M1155 536.3V571.7M1156 543.3V571.7M1157 536.3V564.7M1158 543.3V557.7M1159 543.3V564.7M1160 543.3V564.7M1161 536.3V564.7M1162 536.3V564.7M1163 543.3V564.7M1164 543.3V564.7M1165 529.3V557.7M1166 536.3V564.7M1167 543.3V564.7M1168 536.3V557.7M1169 536.3V564.7M1170 543.3V557.7M1171 543.3V557.7M1172 536.3V557.7M1173 536.3V557.7M1174 543.3V564.7M1175 536.3V564.7M1176 536.3V557.7M1177 529.3V564.7M1178 536.3V564.7M1179 529.3V557.7M1180 529.3V557.7M1181 536.3V557.7M1182 536.3V557.7M1183 536.3V557.7M1184 536.3V564.7M1185 536.3V557.7M1186 536.3V564.7M1187 536.3V557.7M1188 529.3V557.7M1189 536.3V557.7M1190 536.3V557.7M1191 536.3V557.7M1192 536.3V557.7M1193 529.3V557.7M1194 529.3V557.7M1195 522.3V557.7M1196 529.3V557.7M1197 529.3V557.7M1198 536.3V557.7M1199 529.3V550.7M1200 529.3V557.7M1201 529.3V557.7M1202 536.3V557.7M1203 529.3V550.7M1204 522.3V550.7M1205 529.3V550.7M1206 529.3V550.7M1207 529.3V550.7M1208 529.3V557.7M1209 529.3V550.7M1210 529.3V557.7M1211 529.3V550.7M1212 529.3V550.7M1213 529.3V550.7M1214 522.3V557.7M1215 522.3V550.7M1216 529.3V550.7M1217 522.3V543.7M1218 522.3V557.7M1219 529.3V550.7M1220 522.3V543.7M1221 522.3V543.7M1222 529.3V550.7M1223 522.3V543.7M1224 522.3V543.7M1225 522.3V550.7M1226 522.3V543.7M1227 522.3V543.7M1228 522.3V543.7M1229 522.3V543.7M1230 522.3V550.7M1231 522.3V543.7M1232 515.3V543.7M1233 522.3V550.7M1234 522.3V543.7M1235 522.3V543.7M1236 522.3V550.7M1237 522.3V550.7M1238 515.3V543.7M1239 522.3V550.7M1240 522.3V550.7M1241 515.3V543.7M1242 515.3V536.7M1243 522.3V550.7M1244 515.3V543.7M1245 522.3V536.7M1246 522.3V543.7M1247 522.3V543.7M1248 515.3V543.7M1249 508.3V536.7M1250 515.3V543.7M1251 515.3V536.7M1252 515.3V536.7M1253 508.3V536.7M1254 515.3V536.7M1255 515.3V543.7M1256 515.3V543.7M1257 515.3V536.7M1258 515.3V536.7M1259 515.3V543.7M1260 515.3V550.7M1261 515.3V536.7M1262 515.3V536.7M1263 515.3V536.7M1264 515.3V536.7M1265 515.3V536.7M1266 508.3V529.7M1267 508.3V543.7M1268 515.3V543.7M1269 508.3V543.7M1270 508.3V543.7M1271 508.3V529.7M1272 508.3V529.7M1273 508.3V543.7M1274 508.3V536.7M1275 515.3V529.7M1276 508.3V536.7M1277 515.3V529.7M1278 508.3V536.7M1279 501.3V529.7M1280 508.3V529.7M1281 508.3V529.7M1282 508.3V536.7M1283 508.3V529.7M1284 515.3V529.7M1285 508.3V529.7M1286 508.3V529.7M1287 508.3V529.7M1288 508.3V529.7M1289 508.3V522.7M1290 501.3V529.7M1291 508.3V529.7M1292 508.3V536.7M1293 508.3V529.7M1294 508.3V529.7M1295 508.3V529.7M1296 508.3V529.7M1297 501.3V529.7M1298 501.3V529.7M1299 501.3V529.7M1300 501.3V522.7M1301 501.3V529.7M1302 501.3V529.7M1303 501.3V522.7M1304 508.3V522.7M1305 501.3V529.7M1306 508.3V529.7M1307 501.3V522.7M1308 508.3V529.7M1309 508.3V529.7M1310 501.3V529.7M1311 501.3V529.7M1312 501.3V522.7M1313 494.3V522.7M1314 501.3V522.7M1315 501.3V529.7M1316 494.3V529.7M1317 494.3V522.7M1318 494.3V522.7M1319 501.3V529.7M1320 501.3V522.7M1321 501.3V522.7M1322 494.3V522.7M1323 494.3V522.7M1324 501.3V522.7M1325 494.3V522.7M1326 494.3V522.7M1327 501.3V515.7M1328 501.3V522.7M1329 494.3V522.7M1330 501.3V522.7M1331 494.3V522.7M1332 494.3V522.7M1333 494.3V515.7M1334 494.3V522.7M1335 494.3V522.7M1336 494.3V515.7M1337 501.3V515.7M1338 494.3V522.7M1339 501.3V515.7M1340 494.3V515.7M1341 494.3V522.7M1342 487.3V515.7M1343 494.3V515.7M1344 494.3V522.7M1345 487.3V515.7M1346 494.3V515.7M1347 494.3V515.7M1348 494.3V515.7M1349 487.3V515.7M1350 494.3V522.7M1351 494.3V515.7M1352 494.3V515.7M1353 487.3V508.7M1354 487.3V515.7M1355 494.3V515.7M1356 494.3V515.7M1357 494.3V508.7M1358 487.3V515.7M1359 494.3V515.7M1360 487.3V515.7M1361 494.3V508.7M1362 494.3V508.7M1363 494.3V515.7M1364 487.3V515.7M1365 494.3V508.7M1366 487.3V508.7M1367 480.3V508.7M1368 487.3V515.7M1369 487.3V508.7M1370 487.3V508.7M1371 487.3V508.7M1372 487.3V508.7M1373 487.3V508.7M1374 480.3V508.7M1375 480.3V515.7M1376 487.3V508.7M1377 487.3V508.7M1378 487.3V508.7M1379 487.3V501.7M1380 487.3V501.7M1381 487.3V501.7M1382 487.3V501.7M1383 487.3V508.7M1384 487.3V508.7M1385 487.3V508.7M1386 487.3V508.7M1387 480.3V508.7M1388 487.3V501.7M1389 480.3V508.7M1390 480.3V508.7M1391 480.3V508.7M1392 480.3V501.7M1393 480.3V501.7M1394 480.3V508.7M1395 473.3V501.7M1396 480.3V501.7M1397 480.3V501.7M1398 487.3V501.7M1399 473.3V508.7M1400 480.3V501.7M1401 480.3V501.7M1402 487.3V508.7M1403 480.3V501.7M1404 480.3V501.7M1405 480.3V501.7M1406 473.3V501.7M1407 480.3V501.7M1408 473.3V501.7M1409 480.3V501.7M1410 480.3V501.7M1411 473.3V508.7M1412 480.3V501.7M1413 480.3V501.7M1414 480.3V501.7M1415 480.3V501.7M1416 473.3V501.7M1417 473.3V501.7M1418 473.3V501.7M1419 473.3V501.7M1420 480.3V501.7M1421 480.3V501.7M1422 473.3V494.7M1423 473.3V508.7" stroke="#008000" stroke-width="2" shape-rendering="crispEdges"/>
</g>
<rect x="980" y="685.8" width="454.9" height="225.1" fill="#000"/>
<rect x="961.5" y="668.5" width="457.7" height="223.9" fill="#fff" stroke="#000" stroke-width="2.6"/>
<line x1="986" y1="710.3" x2="1120" y2="710.3" stroke="#000" stroke-width="2.7"/>
<line x1="986" y1="784.3" x2="1120" y2="784.3" stroke="#f00" stroke-width="2.7"/>
<line x1="986" y1="857.5" x2="1120" y2="857.5" stroke="#008000" stroke-width="2.7"/>
<text x="1133.2" y="731.3" font-family="'Liberation Serif',serif" font-size="59" style="font-kerning:none" fill="#000">HV voltage</text>
<text x="1133.2" y="804.3" font-family="'Liberation Serif',serif" font-size="59" style="font-kerning:none" fill="#000">LV voltage</text>
<text x="1134.7" y="877.2" font-family="'Liberation Serif',serif" font-size="59" style="font-kerning:none" fill="#000">output</text>
<text x="324.0" y="1003.2" text-anchor="middle" font-family="'Liberation Sans',sans-serif" font-size="53" fill="#000" stroke="#000" stroke-width="0.35">0</text>
<text x="568.0" y="1003.2" text-anchor="middle" font-family="'Liberation Sans',sans-serif" font-size="53" fill="#000" stroke="#000" stroke-width="0.35">10</text>
<text x="812.0" y="1003.2" text-anchor="middle" font-family="'Liberation Sans',sans-serif" font-size="53" fill="#000" stroke="#000" stroke-width="0.35">20</text>
<text x="1056.0" y="1003.2" text-anchor="middle" font-family="'Liberation Sans',sans-serif" font-size="53" fill="#000" stroke="#000" stroke-width="0.35">30</text>
<text x="1300.0" y="1003.2" text-anchor="middle" font-family="'Liberation Sans',sans-serif" font-size="53" fill="#000" stroke="#000" stroke-width="0.35">40</text>
<text x="248.6" y="136.4" text-anchor="end" font-family="'Liberation Sans',sans-serif" font-size="53" fill="#000" stroke="#000" stroke-width="0.35">0</text>
<text x="248.6" y="317.6" text-anchor="end" font-family="'Liberation Sans',sans-serif" font-size="53" fill="#000" stroke="#000" stroke-width="0.35">-1000</text>
<text x="248.6" y="498.7" text-anchor="end" font-family="'Liberation Sans',sans-serif" font-size="53" fill="#000" stroke="#000" stroke-width="0.35">-2000</text>
<text x="248.6" y="679.9" text-anchor="end" font-family="'Liberation Sans',sans-serif" font-size="53" fill="#000" stroke="#000" stroke-width="0.35">-3000</text>
<text x="248.6" y="861.0" text-anchor="end" font-family="'Liberation Sans',sans-serif" font-size="53" fill="#000" stroke="#000" stroke-width="0.35">-4000</text>
<text transform="translate(78.6 577) rotate(-90)" font-family="'Liberation Sans',sans-serif" font-size="64" fill="#000" stroke="#000" stroke-width="0.5">U(V)</text>
<text x="712.5" y="1103.4" font-family="'Liberation Serif',serif" font-size="59" style="font-kerning:none" fill="#000">time</text>
<text x="870.2" y="1103.4" font-family="'Liberation Serif',serif" font-size="59" style="font-kerning:none" fill="#000">μs</text>
<path d="M863.6 1060.5Q832.5 1083 863.6 1105.5Q837.5 1083 863.6 1060.5Z" fill="#000" stroke="#000" stroke-width="0.9" stroke-linejoin="round"/>
<path d="M933.4 1060.5Q964.5 1083 933.4 1105.5Q959.5 1083 933.4 1060.5Z" fill="#000" stroke="#000" stroke-width="0.9" stroke-linejoin="round"/>
</svg>
</body></html>
